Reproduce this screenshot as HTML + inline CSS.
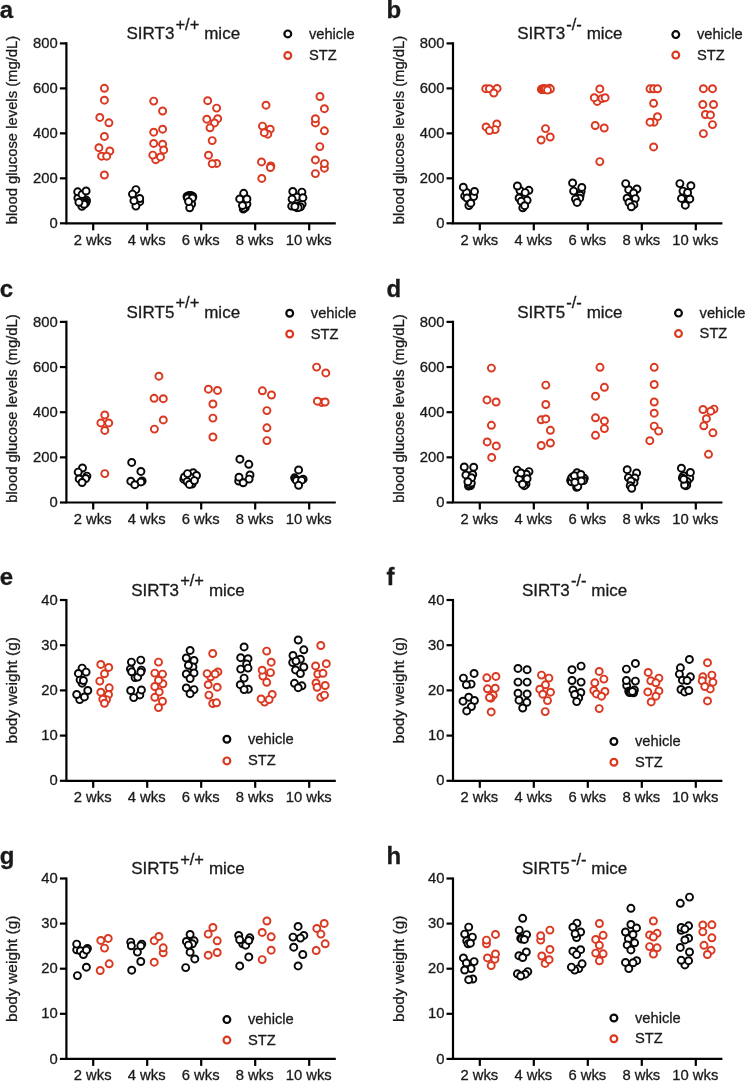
<!DOCTYPE html>
<html><head><meta charset="utf-8"><style>
html,body{margin:0;padding:0;background:#fff;}
svg{display:block;font-family:"Liberation Sans", sans-serif;will-change:transform;}
text{fill:#1a1a1a;stroke:#1a1a1a;stroke-width:0.3px;}
</style></head><body>
<svg width="746" height="1081" viewBox="0 0 746 1081">
<rect width="746" height="1081" fill="#fff"/>
<text x="-0.20" y="18.20" font-size="24" text-anchor="start" font-weight="bold" >a</text>
<path d="M66.40 42.30 V223.30 H335.80" fill="none" stroke="#000" stroke-width="2.2"/>
<line x1="59.90" y1="223.30" x2="66.40" y2="223.30" stroke="#000" stroke-width="2.2"/>
<text x="57.80" y="227.90" font-size="14.8" text-anchor="end" font-weight="normal" >0</text>
<line x1="59.90" y1="178.33" x2="66.40" y2="178.33" stroke="#000" stroke-width="2.2"/>
<text x="57.80" y="182.93" font-size="14.8" text-anchor="end" font-weight="normal" >200</text>
<line x1="59.90" y1="133.35" x2="66.40" y2="133.35" stroke="#000" stroke-width="2.2"/>
<text x="57.80" y="137.95" font-size="14.8" text-anchor="end" font-weight="normal" >400</text>
<line x1="59.90" y1="88.38" x2="66.40" y2="88.38" stroke="#000" stroke-width="2.2"/>
<text x="57.80" y="92.97" font-size="14.8" text-anchor="end" font-weight="normal" >600</text>
<line x1="59.90" y1="43.40" x2="66.40" y2="43.40" stroke="#000" stroke-width="2.2"/>
<text x="57.80" y="48.00" font-size="14.8" text-anchor="end" font-weight="normal" >800</text>
<line x1="93.20" y1="223.30" x2="93.20" y2="230.30" stroke="#000" stroke-width="2.2"/>
<text x="92.70" y="244.50" font-size="14.8" text-anchor="middle" font-weight="normal" >2 wks</text>
<line x1="147.20" y1="223.30" x2="147.20" y2="230.30" stroke="#000" stroke-width="2.2"/>
<text x="146.70" y="244.50" font-size="14.8" text-anchor="middle" font-weight="normal" >4 wks</text>
<line x1="201.20" y1="223.30" x2="201.20" y2="230.30" stroke="#000" stroke-width="2.2"/>
<text x="200.70" y="244.50" font-size="14.8" text-anchor="middle" font-weight="normal" >6 wks</text>
<line x1="255.20" y1="223.30" x2="255.20" y2="230.30" stroke="#000" stroke-width="2.2"/>
<text x="254.70" y="244.50" font-size="14.8" text-anchor="middle" font-weight="normal" >8 wks</text>
<line x1="309.20" y1="223.30" x2="309.20" y2="230.30" stroke="#000" stroke-width="2.2"/>
<text x="308.70" y="244.50" font-size="14.8" text-anchor="middle" font-weight="normal" >10 wks</text>
<text x="0" y="0" font-size="14.8" text-anchor="middle" textLength="188.5" lengthAdjust="spacingAndGlyphs" transform="translate(17.30,130.05) rotate(-90)">blood glucose levels (mg/dL)</text>
<text x="183.30" y="39.00" font-size="17" text-anchor="middle">SIRT3<tspan dx="1.1" dy="-9.2" font-size="16.5">+/+</tspan><tspan dx="4.9" dy="9.2" font-size="17">mice</tspan></text>
<circle cx="287.80" cy="33.90" r="3.4" fill="#fff" stroke="#080808" stroke-width="2.2"/>
<circle cx="287.80" cy="55.50" r="3.4" fill="#fff" stroke="#da3820" stroke-width="2.2"/>
<text x="308.90" y="38.70" font-size="14.7" text-anchor="start" font-weight="normal" >vehicle</text>
<text x="308.90" y="60.00" font-size="14.7" text-anchor="start" font-weight="normal" >STZ</text>
<circle cx="81.90" cy="206.30" r="3.5" fill="#fff" stroke="#080808" stroke-width="1.95"/>
<circle cx="86.50" cy="200.30" r="3.5" fill="#fff" stroke="#080808" stroke-width="1.95"/>
<circle cx="86.10" cy="202.30" r="3.5" fill="#fff" stroke="#080808" stroke-width="1.95"/>
<circle cx="85.00" cy="203.50" r="3.5" fill="#fff" stroke="#080808" stroke-width="1.95"/>
<circle cx="84.10" cy="204.30" r="3.5" fill="#fff" stroke="#080808" stroke-width="1.95"/>
<circle cx="77.90" cy="197.90" r="3.5" fill="#fff" stroke="#080808" stroke-width="1.95"/>
<circle cx="77.70" cy="191.80" r="3.5" fill="#fff" stroke="#080808" stroke-width="1.95"/>
<circle cx="82.10" cy="194.40" r="3.5" fill="#fff" stroke="#080808" stroke-width="1.95"/>
<circle cx="86.10" cy="191.00" r="3.5" fill="#fff" stroke="#080808" stroke-width="1.95"/>
<circle cx="78.90" cy="202.30" r="3.5" fill="#fff" stroke="#080808" stroke-width="1.95"/>
<circle cx="104.40" cy="88.30" r="3.5" fill="#fff" stroke="#da3820" stroke-width="1.95"/>
<circle cx="104.40" cy="100.20" r="3.5" fill="#fff" stroke="#da3820" stroke-width="1.95"/>
<circle cx="99.80" cy="117.40" r="3.5" fill="#fff" stroke="#da3820" stroke-width="1.95"/>
<circle cx="108.90" cy="122.80" r="3.5" fill="#fff" stroke="#da3820" stroke-width="1.95"/>
<circle cx="104.40" cy="136.40" r="3.5" fill="#fff" stroke="#da3820" stroke-width="1.95"/>
<circle cx="98.90" cy="147.70" r="3.5" fill="#fff" stroke="#da3820" stroke-width="1.95"/>
<circle cx="109.80" cy="151.00" r="3.5" fill="#fff" stroke="#da3820" stroke-width="1.95"/>
<circle cx="101.60" cy="156.20" r="3.5" fill="#fff" stroke="#da3820" stroke-width="1.95"/>
<circle cx="106.70" cy="156.20" r="3.5" fill="#fff" stroke="#da3820" stroke-width="1.95"/>
<circle cx="104.40" cy="175.00" r="3.5" fill="#fff" stroke="#da3820" stroke-width="1.95"/>
<circle cx="135.90" cy="189.60" r="3.5" fill="#fff" stroke="#080808" stroke-width="1.95"/>
<circle cx="139.70" cy="201.70" r="3.5" fill="#fff" stroke="#080808" stroke-width="1.95"/>
<circle cx="139.70" cy="198.50" r="3.5" fill="#fff" stroke="#080808" stroke-width="1.95"/>
<circle cx="132.50" cy="194.10" r="3.5" fill="#fff" stroke="#080808" stroke-width="1.95"/>
<circle cx="135.90" cy="206.10" r="3.5" fill="#fff" stroke="#080808" stroke-width="1.95"/>
<circle cx="133.90" cy="200.70" r="3.5" fill="#fff" stroke="#080808" stroke-width="1.95"/>
<circle cx="153.70" cy="101.10" r="3.5" fill="#fff" stroke="#da3820" stroke-width="1.95"/>
<circle cx="162.60" cy="111.00" r="3.5" fill="#fff" stroke="#da3820" stroke-width="1.95"/>
<circle cx="162.60" cy="129.20" r="3.5" fill="#fff" stroke="#da3820" stroke-width="1.95"/>
<circle cx="153.70" cy="132.20" r="3.5" fill="#fff" stroke="#da3820" stroke-width="1.95"/>
<circle cx="153.70" cy="143.40" r="3.5" fill="#fff" stroke="#da3820" stroke-width="1.95"/>
<circle cx="162.60" cy="144.20" r="3.5" fill="#fff" stroke="#da3820" stroke-width="1.95"/>
<circle cx="163.70" cy="149.90" r="3.5" fill="#fff" stroke="#da3820" stroke-width="1.95"/>
<circle cx="155.70" cy="159.70" r="3.5" fill="#fff" stroke="#da3820" stroke-width="1.95"/>
<circle cx="152.80" cy="155.10" r="3.5" fill="#fff" stroke="#da3820" stroke-width="1.95"/>
<circle cx="160.50" cy="156.90" r="3.5" fill="#fff" stroke="#da3820" stroke-width="1.95"/>
<circle cx="187.00" cy="196.50" r="3.5" fill="#fff" stroke="#080808" stroke-width="1.95"/>
<circle cx="188.50" cy="195.80" r="3.5" fill="#fff" stroke="#080808" stroke-width="1.95"/>
<circle cx="190.00" cy="195.50" r="3.5" fill="#fff" stroke="#080808" stroke-width="1.95"/>
<circle cx="191.50" cy="195.80" r="3.5" fill="#fff" stroke="#080808" stroke-width="1.95"/>
<circle cx="192.80" cy="196.50" r="3.5" fill="#fff" stroke="#080808" stroke-width="1.95"/>
<circle cx="187.50" cy="198.00" r="3.5" fill="#fff" stroke="#080808" stroke-width="1.95"/>
<circle cx="191.60" cy="204.00" r="3.5" fill="#fff" stroke="#080808" stroke-width="1.95"/>
<circle cx="189.70" cy="207.80" r="3.5" fill="#fff" stroke="#080808" stroke-width="1.95"/>
<circle cx="192.40" cy="198.10" r="3.5" fill="#fff" stroke="#080808" stroke-width="1.95"/>
<circle cx="188.60" cy="201.60" r="3.5" fill="#fff" stroke="#080808" stroke-width="1.95"/>
<circle cx="207.70" cy="100.70" r="3.5" fill="#fff" stroke="#da3820" stroke-width="1.95"/>
<circle cx="216.60" cy="108.10" r="3.5" fill="#fff" stroke="#da3820" stroke-width="1.95"/>
<circle cx="217.70" cy="118.70" r="3.5" fill="#fff" stroke="#da3820" stroke-width="1.95"/>
<circle cx="206.80" cy="119.20" r="3.5" fill="#fff" stroke="#da3820" stroke-width="1.95"/>
<circle cx="214.50" cy="122.90" r="3.5" fill="#fff" stroke="#da3820" stroke-width="1.95"/>
<circle cx="210.00" cy="127.80" r="3.5" fill="#fff" stroke="#da3820" stroke-width="1.95"/>
<circle cx="212.20" cy="140.60" r="3.5" fill="#fff" stroke="#da3820" stroke-width="1.95"/>
<circle cx="208.50" cy="155.20" r="3.5" fill="#fff" stroke="#da3820" stroke-width="1.95"/>
<circle cx="216.60" cy="163.40" r="3.5" fill="#fff" stroke="#da3820" stroke-width="1.95"/>
<circle cx="212.20" cy="163.70" r="3.5" fill="#fff" stroke="#da3820" stroke-width="1.95"/>
<circle cx="243.30" cy="209.00" r="3.5" fill="#fff" stroke="#080808" stroke-width="1.95"/>
<circle cx="245.30" cy="207.70" r="3.5" fill="#fff" stroke="#080808" stroke-width="1.95"/>
<circle cx="243.70" cy="208.10" r="3.5" fill="#fff" stroke="#080808" stroke-width="1.95"/>
<circle cx="246.90" cy="204.10" r="3.5" fill="#fff" stroke="#080808" stroke-width="1.95"/>
<circle cx="242.50" cy="205.50" r="3.5" fill="#fff" stroke="#080808" stroke-width="1.95"/>
<circle cx="243.70" cy="193.30" r="3.5" fill="#fff" stroke="#080808" stroke-width="1.95"/>
<circle cx="239.70" cy="198.90" r="3.5" fill="#fff" stroke="#080808" stroke-width="1.95"/>
<circle cx="246.90" cy="198.90" r="3.5" fill="#fff" stroke="#080808" stroke-width="1.95"/>
<circle cx="266.00" cy="105.20" r="3.5" fill="#fff" stroke="#da3820" stroke-width="1.95"/>
<circle cx="262.50" cy="126.10" r="3.5" fill="#fff" stroke="#da3820" stroke-width="1.95"/>
<circle cx="270.20" cy="129.20" r="3.5" fill="#fff" stroke="#da3820" stroke-width="1.95"/>
<circle cx="267.80" cy="134.20" r="3.5" fill="#fff" stroke="#da3820" stroke-width="1.95"/>
<circle cx="264.30" cy="132.70" r="3.5" fill="#fff" stroke="#da3820" stroke-width="1.95"/>
<circle cx="261.50" cy="161.90" r="3.5" fill="#fff" stroke="#da3820" stroke-width="1.95"/>
<circle cx="270.80" cy="166.00" r="3.5" fill="#fff" stroke="#da3820" stroke-width="1.95"/>
<circle cx="270.40" cy="167.50" r="3.5" fill="#fff" stroke="#da3820" stroke-width="1.95"/>
<circle cx="261.80" cy="178.40" r="3.5" fill="#fff" stroke="#da3820" stroke-width="1.95"/>
<circle cx="296.90" cy="196.90" r="3.5" fill="#fff" stroke="#080808" stroke-width="1.95"/>
<circle cx="301.90" cy="192.10" r="3.5" fill="#fff" stroke="#080808" stroke-width="1.95"/>
<circle cx="291.70" cy="206.10" r="3.5" fill="#fff" stroke="#080808" stroke-width="1.95"/>
<circle cx="296.90" cy="207.70" r="3.5" fill="#fff" stroke="#080808" stroke-width="1.95"/>
<circle cx="299.30" cy="205.70" r="3.5" fill="#fff" stroke="#080808" stroke-width="1.95"/>
<circle cx="302.10" cy="204.10" r="3.5" fill="#fff" stroke="#080808" stroke-width="1.95"/>
<circle cx="300.50" cy="206.80" r="3.5" fill="#fff" stroke="#080808" stroke-width="1.95"/>
<circle cx="298.20" cy="207.50" r="3.5" fill="#fff" stroke="#080808" stroke-width="1.95"/>
<circle cx="292.80" cy="191.50" r="3.5" fill="#fff" stroke="#080808" stroke-width="1.95"/>
<circle cx="292.10" cy="199.10" r="3.5" fill="#fff" stroke="#080808" stroke-width="1.95"/>
<circle cx="302.90" cy="197.70" r="3.5" fill="#fff" stroke="#080808" stroke-width="1.95"/>
<circle cx="294.90" cy="206.50" r="3.5" fill="#fff" stroke="#080808" stroke-width="1.95"/>
<circle cx="319.95" cy="96.50" r="3.5" fill="#fff" stroke="#da3820" stroke-width="1.95"/>
<circle cx="324.40" cy="108.70" r="3.5" fill="#fff" stroke="#da3820" stroke-width="1.95"/>
<circle cx="315.40" cy="122.90" r="3.5" fill="#fff" stroke="#da3820" stroke-width="1.95"/>
<circle cx="315.40" cy="118.70" r="3.5" fill="#fff" stroke="#da3820" stroke-width="1.95"/>
<circle cx="324.40" cy="130.80" r="3.5" fill="#fff" stroke="#da3820" stroke-width="1.95"/>
<circle cx="319.80" cy="146.60" r="3.5" fill="#fff" stroke="#da3820" stroke-width="1.95"/>
<circle cx="315.40" cy="159.90" r="3.5" fill="#fff" stroke="#da3820" stroke-width="1.95"/>
<circle cx="324.40" cy="168.20" r="3.5" fill="#fff" stroke="#da3820" stroke-width="1.95"/>
<circle cx="324.40" cy="163.60" r="3.5" fill="#fff" stroke="#da3820" stroke-width="1.95"/>
<circle cx="315.40" cy="173.60" r="3.5" fill="#fff" stroke="#da3820" stroke-width="1.95"/>
<text x="386.40" y="18.20" font-size="24" text-anchor="start" font-weight="bold" >b</text>
<path d="M453.00 42.30 V223.30 H722.40" fill="none" stroke="#000" stroke-width="2.2"/>
<line x1="446.50" y1="223.30" x2="453.00" y2="223.30" stroke="#000" stroke-width="2.2"/>
<text x="444.40" y="227.90" font-size="14.8" text-anchor="end" font-weight="normal" >0</text>
<line x1="446.50" y1="178.33" x2="453.00" y2="178.33" stroke="#000" stroke-width="2.2"/>
<text x="444.40" y="182.93" font-size="14.8" text-anchor="end" font-weight="normal" >200</text>
<line x1="446.50" y1="133.35" x2="453.00" y2="133.35" stroke="#000" stroke-width="2.2"/>
<text x="444.40" y="137.95" font-size="14.8" text-anchor="end" font-weight="normal" >400</text>
<line x1="446.50" y1="88.38" x2="453.00" y2="88.38" stroke="#000" stroke-width="2.2"/>
<text x="444.40" y="92.97" font-size="14.8" text-anchor="end" font-weight="normal" >600</text>
<line x1="446.50" y1="43.40" x2="453.00" y2="43.40" stroke="#000" stroke-width="2.2"/>
<text x="444.40" y="48.00" font-size="14.8" text-anchor="end" font-weight="normal" >800</text>
<line x1="479.80" y1="223.30" x2="479.80" y2="230.30" stroke="#000" stroke-width="2.2"/>
<text x="479.30" y="244.50" font-size="14.8" text-anchor="middle" font-weight="normal" >2 wks</text>
<line x1="533.80" y1="223.30" x2="533.80" y2="230.30" stroke="#000" stroke-width="2.2"/>
<text x="533.30" y="244.50" font-size="14.8" text-anchor="middle" font-weight="normal" >4 wks</text>
<line x1="587.80" y1="223.30" x2="587.80" y2="230.30" stroke="#000" stroke-width="2.2"/>
<text x="587.30" y="244.50" font-size="14.8" text-anchor="middle" font-weight="normal" >6 wks</text>
<line x1="641.80" y1="223.30" x2="641.80" y2="230.30" stroke="#000" stroke-width="2.2"/>
<text x="641.30" y="244.50" font-size="14.8" text-anchor="middle" font-weight="normal" >8 wks</text>
<line x1="695.80" y1="223.30" x2="695.80" y2="230.30" stroke="#000" stroke-width="2.2"/>
<text x="695.30" y="244.50" font-size="14.8" text-anchor="middle" font-weight="normal" >10 wks</text>
<text x="0" y="0" font-size="14.8" text-anchor="middle" textLength="188.5" lengthAdjust="spacingAndGlyphs" transform="translate(403.90,130.05) rotate(-90)">blood glucose levels (mg/dL)</text>
<text x="569.90" y="39.00" font-size="17" text-anchor="middle">SIRT3<tspan dx="1.1" dy="-9.2" font-size="16.5">-/-</tspan><tspan dx="4.9" dy="9.2" font-size="17">mice</tspan></text>
<circle cx="675.80" cy="34.60" r="3.4" fill="#fff" stroke="#080808" stroke-width="2.2"/>
<circle cx="675.80" cy="55.10" r="3.4" fill="#fff" stroke="#da3820" stroke-width="2.2"/>
<text x="696.90" y="39.40" font-size="14.7" text-anchor="start" font-weight="normal" >vehicle</text>
<text x="696.90" y="59.60" font-size="14.7" text-anchor="start" font-weight="normal" >STZ</text>
<circle cx="464.70" cy="196.10" r="3.5" fill="#fff" stroke="#080808" stroke-width="1.95"/>
<circle cx="473.60" cy="196.60" r="3.5" fill="#fff" stroke="#080808" stroke-width="1.95"/>
<circle cx="466.50" cy="192.40" r="3.5" fill="#fff" stroke="#080808" stroke-width="1.95"/>
<circle cx="468.90" cy="205.50" r="3.5" fill="#fff" stroke="#080808" stroke-width="1.95"/>
<circle cx="463.30" cy="187.20" r="3.5" fill="#fff" stroke="#080808" stroke-width="1.95"/>
<circle cx="474.50" cy="191.40" r="3.5" fill="#fff" stroke="#080808" stroke-width="1.95"/>
<circle cx="467.00" cy="198.00" r="3.5" fill="#fff" stroke="#080808" stroke-width="1.95"/>
<circle cx="470.80" cy="203.20" r="3.5" fill="#fff" stroke="#080808" stroke-width="1.95"/>
<circle cx="485.75" cy="88.70" r="3.5" fill="#fff" stroke="#da3820" stroke-width="1.95"/>
<circle cx="489.40" cy="88.70" r="3.5" fill="#fff" stroke="#da3820" stroke-width="1.95"/>
<circle cx="497.10" cy="88.40" r="3.5" fill="#fff" stroke="#da3820" stroke-width="1.95"/>
<circle cx="493.80" cy="93.00" r="3.5" fill="#fff" stroke="#da3820" stroke-width="1.95"/>
<circle cx="496.80" cy="123.90" r="3.5" fill="#fff" stroke="#da3820" stroke-width="1.95"/>
<circle cx="486.10" cy="126.90" r="3.5" fill="#fff" stroke="#da3820" stroke-width="1.95"/>
<circle cx="495.10" cy="129.60" r="3.5" fill="#fff" stroke="#da3820" stroke-width="1.95"/>
<circle cx="489.40" cy="130.60" r="3.5" fill="#fff" stroke="#da3820" stroke-width="1.95"/>
<circle cx="520.00" cy="190.50" r="3.5" fill="#fff" stroke="#080808" stroke-width="1.95"/>
<circle cx="528.90" cy="190.30" r="3.5" fill="#fff" stroke="#080808" stroke-width="1.95"/>
<circle cx="517.40" cy="186.00" r="3.5" fill="#fff" stroke="#080808" stroke-width="1.95"/>
<circle cx="525.20" cy="192.60" r="3.5" fill="#fff" stroke="#080808" stroke-width="1.95"/>
<circle cx="522.80" cy="207.80" r="3.5" fill="#fff" stroke="#080808" stroke-width="1.95"/>
<circle cx="527.10" cy="200.30" r="3.5" fill="#fff" stroke="#080808" stroke-width="1.95"/>
<circle cx="519.10" cy="198.00" r="3.5" fill="#fff" stroke="#080808" stroke-width="1.95"/>
<circle cx="521.20" cy="201.30" r="3.5" fill="#fff" stroke="#080808" stroke-width="1.95"/>
<circle cx="524.70" cy="205.70" r="3.5" fill="#fff" stroke="#080808" stroke-width="1.95"/>
<circle cx="541.40" cy="89.40" r="3.5" fill="#fff" stroke="#da3820" stroke-width="1.95"/>
<circle cx="541.90" cy="89.00" r="3.5" fill="#fff" stroke="#da3820" stroke-width="1.95"/>
<circle cx="542.40" cy="89.60" r="3.5" fill="#fff" stroke="#da3820" stroke-width="1.95"/>
<circle cx="542.90" cy="88.90" r="3.5" fill="#fff" stroke="#da3820" stroke-width="1.95"/>
<circle cx="543.40" cy="89.50" r="3.5" fill="#fff" stroke="#da3820" stroke-width="1.95"/>
<circle cx="543.90" cy="88.80" r="3.5" fill="#fff" stroke="#da3820" stroke-width="1.95"/>
<circle cx="544.40" cy="89.30" r="3.5" fill="#fff" stroke="#da3820" stroke-width="1.95"/>
<circle cx="544.90" cy="88.70" r="3.5" fill="#fff" stroke="#da3820" stroke-width="1.95"/>
<circle cx="545.40" cy="89.20" r="3.5" fill="#fff" stroke="#da3820" stroke-width="1.95"/>
<circle cx="549.50" cy="88.30" r="3.5" fill="#fff" stroke="#da3820" stroke-width="1.95"/>
<circle cx="550.40" cy="89.00" r="3.5" fill="#fff" stroke="#da3820" stroke-width="1.95"/>
<circle cx="547.50" cy="90.10" r="3.5" fill="#fff" stroke="#da3820" stroke-width="1.95"/>
<circle cx="545.50" cy="128.60" r="3.5" fill="#fff" stroke="#da3820" stroke-width="1.95"/>
<circle cx="550.20" cy="137.00" r="3.5" fill="#fff" stroke="#da3820" stroke-width="1.95"/>
<circle cx="541.10" cy="140.00" r="3.5" fill="#fff" stroke="#da3820" stroke-width="1.95"/>
<circle cx="581.10" cy="191.60" r="3.5" fill="#fff" stroke="#080808" stroke-width="1.95"/>
<circle cx="580.20" cy="195.30" r="3.5" fill="#fff" stroke="#080808" stroke-width="1.95"/>
<circle cx="579.70" cy="198.20" r="3.5" fill="#fff" stroke="#080808" stroke-width="1.95"/>
<circle cx="575.50" cy="199.10" r="3.5" fill="#fff" stroke="#080808" stroke-width="1.95"/>
<circle cx="581.80" cy="187.40" r="3.5" fill="#fff" stroke="#080808" stroke-width="1.95"/>
<circle cx="572.60" cy="182.90" r="3.5" fill="#fff" stroke="#080808" stroke-width="1.95"/>
<circle cx="573.60" cy="191.10" r="3.5" fill="#fff" stroke="#080808" stroke-width="1.95"/>
<circle cx="577.10" cy="202.40" r="3.5" fill="#fff" stroke="#080808" stroke-width="1.95"/>
<circle cx="599.80" cy="88.90" r="3.5" fill="#fff" stroke="#da3820" stroke-width="1.95"/>
<circle cx="597.20" cy="101.40" r="3.5" fill="#fff" stroke="#da3820" stroke-width="1.95"/>
<circle cx="594.30" cy="97.70" r="3.5" fill="#fff" stroke="#da3820" stroke-width="1.95"/>
<circle cx="601.90" cy="98.60" r="3.5" fill="#fff" stroke="#da3820" stroke-width="1.95"/>
<circle cx="605.10" cy="97.70" r="3.5" fill="#fff" stroke="#da3820" stroke-width="1.95"/>
<circle cx="595.20" cy="125.50" r="3.5" fill="#fff" stroke="#da3820" stroke-width="1.95"/>
<circle cx="604.20" cy="128.00" r="3.5" fill="#fff" stroke="#da3820" stroke-width="1.95"/>
<circle cx="599.80" cy="161.60" r="3.5" fill="#fff" stroke="#da3820" stroke-width="1.95"/>
<circle cx="636.90" cy="189.00" r="3.5" fill="#fff" stroke="#080808" stroke-width="1.95"/>
<circle cx="628.70" cy="189.70" r="3.5" fill="#fff" stroke="#080808" stroke-width="1.95"/>
<circle cx="625.70" cy="183.60" r="3.5" fill="#fff" stroke="#080808" stroke-width="1.95"/>
<circle cx="633.60" cy="193.00" r="3.5" fill="#fff" stroke="#080808" stroke-width="1.95"/>
<circle cx="627.10" cy="198.20" r="3.5" fill="#fff" stroke="#080808" stroke-width="1.95"/>
<circle cx="635.30" cy="198.60" r="3.5" fill="#fff" stroke="#080808" stroke-width="1.95"/>
<circle cx="633.90" cy="204.70" r="3.5" fill="#fff" stroke="#080808" stroke-width="1.95"/>
<circle cx="629.00" cy="202.40" r="3.5" fill="#fff" stroke="#080808" stroke-width="1.95"/>
<circle cx="631.30" cy="206.80" r="3.5" fill="#fff" stroke="#080808" stroke-width="1.95"/>
<circle cx="650.00" cy="88.80" r="3.5" fill="#fff" stroke="#da3820" stroke-width="1.95"/>
<circle cx="653.60" cy="88.80" r="3.5" fill="#fff" stroke="#da3820" stroke-width="1.95"/>
<circle cx="657.50" cy="88.80" r="3.5" fill="#fff" stroke="#da3820" stroke-width="1.95"/>
<circle cx="653.60" cy="103.30" r="3.5" fill="#fff" stroke="#da3820" stroke-width="1.95"/>
<circle cx="657.50" cy="116.70" r="3.5" fill="#fff" stroke="#da3820" stroke-width="1.95"/>
<circle cx="654.00" cy="122.20" r="3.5" fill="#fff" stroke="#da3820" stroke-width="1.95"/>
<circle cx="650.00" cy="122.20" r="3.5" fill="#fff" stroke="#da3820" stroke-width="1.95"/>
<circle cx="653.60" cy="146.90" r="3.5" fill="#fff" stroke="#da3820" stroke-width="1.95"/>
<circle cx="683.00" cy="191.10" r="3.5" fill="#fff" stroke="#080808" stroke-width="1.95"/>
<circle cx="688.60" cy="199.10" r="3.5" fill="#fff" stroke="#080808" stroke-width="1.95"/>
<circle cx="689.80" cy="198.90" r="3.5" fill="#fff" stroke="#080808" stroke-width="1.95"/>
<circle cx="679.90" cy="183.60" r="3.5" fill="#fff" stroke="#080808" stroke-width="1.95"/>
<circle cx="690.90" cy="185.70" r="3.5" fill="#fff" stroke="#080808" stroke-width="1.95"/>
<circle cx="687.60" cy="192.50" r="3.5" fill="#fff" stroke="#080808" stroke-width="1.95"/>
<circle cx="681.50" cy="198.40" r="3.5" fill="#fff" stroke="#080808" stroke-width="1.95"/>
<circle cx="685.30" cy="205.20" r="3.5" fill="#fff" stroke="#080808" stroke-width="1.95"/>
<circle cx="703.40" cy="88.70" r="3.5" fill="#fff" stroke="#da3820" stroke-width="1.95"/>
<circle cx="712.50" cy="88.70" r="3.5" fill="#fff" stroke="#da3820" stroke-width="1.95"/>
<circle cx="702.80" cy="104.50" r="3.5" fill="#fff" stroke="#da3820" stroke-width="1.95"/>
<circle cx="713.50" cy="104.50" r="3.5" fill="#fff" stroke="#da3820" stroke-width="1.95"/>
<circle cx="705.40" cy="114.50" r="3.5" fill="#fff" stroke="#da3820" stroke-width="1.95"/>
<circle cx="710.50" cy="114.90" r="3.5" fill="#fff" stroke="#da3820" stroke-width="1.95"/>
<circle cx="712.50" cy="124.60" r="3.5" fill="#fff" stroke="#da3820" stroke-width="1.95"/>
<circle cx="703.40" cy="133.60" r="3.5" fill="#fff" stroke="#da3820" stroke-width="1.95"/>
<text x="-0.20" y="296.70" font-size="24" text-anchor="start" font-weight="bold" >c</text>
<path d="M66.40 320.80 V502.50 H335.80" fill="none" stroke="#000" stroke-width="2.2"/>
<line x1="59.90" y1="502.50" x2="66.40" y2="502.50" stroke="#000" stroke-width="2.2"/>
<text x="57.80" y="507.10" font-size="14.8" text-anchor="end" font-weight="normal" >0</text>
<line x1="59.90" y1="457.35" x2="66.40" y2="457.35" stroke="#000" stroke-width="2.2"/>
<text x="57.80" y="461.95" font-size="14.8" text-anchor="end" font-weight="normal" >200</text>
<line x1="59.90" y1="412.20" x2="66.40" y2="412.20" stroke="#000" stroke-width="2.2"/>
<text x="57.80" y="416.80" font-size="14.8" text-anchor="end" font-weight="normal" >400</text>
<line x1="59.90" y1="367.05" x2="66.40" y2="367.05" stroke="#000" stroke-width="2.2"/>
<text x="57.80" y="371.65" font-size="14.8" text-anchor="end" font-weight="normal" >600</text>
<line x1="59.90" y1="321.90" x2="66.40" y2="321.90" stroke="#000" stroke-width="2.2"/>
<text x="57.80" y="326.50" font-size="14.8" text-anchor="end" font-weight="normal" >800</text>
<line x1="93.20" y1="502.50" x2="93.20" y2="509.50" stroke="#000" stroke-width="2.2"/>
<text x="92.70" y="523.70" font-size="14.8" text-anchor="middle" font-weight="normal" >2 wks</text>
<line x1="147.20" y1="502.50" x2="147.20" y2="509.50" stroke="#000" stroke-width="2.2"/>
<text x="146.70" y="523.70" font-size="14.8" text-anchor="middle" font-weight="normal" >4 wks</text>
<line x1="201.20" y1="502.50" x2="201.20" y2="509.50" stroke="#000" stroke-width="2.2"/>
<text x="200.70" y="523.70" font-size="14.8" text-anchor="middle" font-weight="normal" >6 wks</text>
<line x1="255.20" y1="502.50" x2="255.20" y2="509.50" stroke="#000" stroke-width="2.2"/>
<text x="254.70" y="523.70" font-size="14.8" text-anchor="middle" font-weight="normal" >8 wks</text>
<line x1="309.20" y1="502.50" x2="309.20" y2="509.50" stroke="#000" stroke-width="2.2"/>
<text x="308.70" y="523.70" font-size="14.8" text-anchor="middle" font-weight="normal" >10 wks</text>
<text x="0" y="0" font-size="14.8" text-anchor="middle" textLength="188.5" lengthAdjust="spacingAndGlyphs" transform="translate(17.30,408.55) rotate(-90)">blood glucose levels (mg/dL)</text>
<text x="183.30" y="317.50" font-size="17" text-anchor="middle">SIRT5<tspan dx="1.1" dy="-9.2" font-size="16.5">+/+</tspan><tspan dx="4.9" dy="9.2" font-size="17">mice</tspan></text>
<circle cx="289.70" cy="313.30" r="3.4" fill="#fff" stroke="#080808" stroke-width="2.2"/>
<circle cx="289.70" cy="334.00" r="3.4" fill="#fff" stroke="#da3820" stroke-width="2.2"/>
<text x="310.80" y="318.10" font-size="14.7" text-anchor="start" font-weight="normal" >vehicle</text>
<text x="310.80" y="338.50" font-size="14.7" text-anchor="start" font-weight="normal" >STZ</text>
<circle cx="82.50" cy="468.00" r="3.5" fill="#fff" stroke="#080808" stroke-width="1.95"/>
<circle cx="78.20" cy="472.10" r="3.5" fill="#fff" stroke="#080808" stroke-width="1.95"/>
<circle cx="86.90" cy="476.10" r="3.5" fill="#fff" stroke="#080808" stroke-width="1.95"/>
<circle cx="85.70" cy="478.50" r="3.5" fill="#fff" stroke="#080808" stroke-width="1.95"/>
<circle cx="79.20" cy="478.90" r="3.5" fill="#fff" stroke="#080808" stroke-width="1.95"/>
<circle cx="82.10" cy="482.50" r="3.5" fill="#fff" stroke="#080808" stroke-width="1.95"/>
<circle cx="104.80" cy="415.00" r="3.5" fill="#fff" stroke="#da3820" stroke-width="1.95"/>
<circle cx="100.90" cy="422.90" r="3.5" fill="#fff" stroke="#da3820" stroke-width="1.95"/>
<circle cx="108.70" cy="422.90" r="3.5" fill="#fff" stroke="#da3820" stroke-width="1.95"/>
<circle cx="104.80" cy="430.40" r="3.5" fill="#fff" stroke="#da3820" stroke-width="1.95"/>
<circle cx="104.80" cy="473.60" r="3.5" fill="#fff" stroke="#da3820" stroke-width="1.95"/>
<circle cx="131.70" cy="462.40" r="3.5" fill="#fff" stroke="#080808" stroke-width="1.95"/>
<circle cx="140.90" cy="471.40" r="3.5" fill="#fff" stroke="#080808" stroke-width="1.95"/>
<circle cx="130.80" cy="481.20" r="3.5" fill="#fff" stroke="#080808" stroke-width="1.95"/>
<circle cx="142.10" cy="481.00" r="3.5" fill="#fff" stroke="#080808" stroke-width="1.95"/>
<circle cx="140.90" cy="481.90" r="3.5" fill="#fff" stroke="#080808" stroke-width="1.95"/>
<circle cx="134.80" cy="484.70" r="3.5" fill="#fff" stroke="#080808" stroke-width="1.95"/>
<circle cx="158.90" cy="376.20" r="3.5" fill="#fff" stroke="#da3820" stroke-width="1.95"/>
<circle cx="154.10" cy="398.30" r="3.5" fill="#fff" stroke="#da3820" stroke-width="1.95"/>
<circle cx="163.30" cy="398.70" r="3.5" fill="#fff" stroke="#da3820" stroke-width="1.95"/>
<circle cx="163.30" cy="419.90" r="3.5" fill="#fff" stroke="#da3820" stroke-width="1.95"/>
<circle cx="154.40" cy="429.10" r="3.5" fill="#fff" stroke="#da3820" stroke-width="1.95"/>
<circle cx="193.20" cy="472.70" r="3.5" fill="#fff" stroke="#080808" stroke-width="1.95"/>
<circle cx="196.50" cy="475.50" r="3.5" fill="#fff" stroke="#080808" stroke-width="1.95"/>
<circle cx="183.80" cy="479.20" r="3.5" fill="#fff" stroke="#080808" stroke-width="1.95"/>
<circle cx="184.50" cy="477.00" r="3.5" fill="#fff" stroke="#080808" stroke-width="1.95"/>
<circle cx="190.50" cy="477.50" r="3.5" fill="#fff" stroke="#080808" stroke-width="1.95"/>
<circle cx="192.00" cy="484.00" r="3.5" fill="#fff" stroke="#080808" stroke-width="1.95"/>
<circle cx="187.10" cy="481.60" r="3.5" fill="#fff" stroke="#080808" stroke-width="1.95"/>
<circle cx="189.40" cy="484.40" r="3.5" fill="#fff" stroke="#080808" stroke-width="1.95"/>
<circle cx="187.50" cy="473.60" r="3.5" fill="#fff" stroke="#080808" stroke-width="1.95"/>
<circle cx="194.40" cy="480.60" r="3.5" fill="#fff" stroke="#080808" stroke-width="1.95"/>
<circle cx="208.40" cy="389.20" r="3.5" fill="#fff" stroke="#da3820" stroke-width="1.95"/>
<circle cx="217.50" cy="390.40" r="3.5" fill="#fff" stroke="#da3820" stroke-width="1.95"/>
<circle cx="212.90" cy="404.00" r="3.5" fill="#fff" stroke="#da3820" stroke-width="1.95"/>
<circle cx="212.90" cy="418.10" r="3.5" fill="#fff" stroke="#da3820" stroke-width="1.95"/>
<circle cx="212.90" cy="437.00" r="3.5" fill="#fff" stroke="#da3820" stroke-width="1.95"/>
<circle cx="239.90" cy="459.20" r="3.5" fill="#fff" stroke="#080808" stroke-width="1.95"/>
<circle cx="248.80" cy="464.30" r="3.5" fill="#fff" stroke="#080808" stroke-width="1.95"/>
<circle cx="250.00" cy="474.90" r="3.5" fill="#fff" stroke="#080808" stroke-width="1.95"/>
<circle cx="238.70" cy="481.00" r="3.5" fill="#fff" stroke="#080808" stroke-width="1.95"/>
<circle cx="239.00" cy="477.20" r="3.5" fill="#fff" stroke="#080808" stroke-width="1.95"/>
<circle cx="249.10" cy="479.10" r="3.5" fill="#fff" stroke="#080808" stroke-width="1.95"/>
<circle cx="243.20" cy="482.80" r="3.5" fill="#fff" stroke="#080808" stroke-width="1.95"/>
<circle cx="262.40" cy="390.80" r="3.5" fill="#fff" stroke="#da3820" stroke-width="1.95"/>
<circle cx="271.50" cy="395.00" r="3.5" fill="#fff" stroke="#da3820" stroke-width="1.95"/>
<circle cx="266.90" cy="410.60" r="3.5" fill="#fff" stroke="#da3820" stroke-width="1.95"/>
<circle cx="266.90" cy="427.80" r="3.5" fill="#fff" stroke="#da3820" stroke-width="1.95"/>
<circle cx="266.90" cy="440.60" r="3.5" fill="#fff" stroke="#da3820" stroke-width="1.95"/>
<circle cx="294.60" cy="477.80" r="3.5" fill="#fff" stroke="#080808" stroke-width="1.95"/>
<circle cx="295.50" cy="479.20" r="3.5" fill="#fff" stroke="#080808" stroke-width="1.95"/>
<circle cx="296.50" cy="480.60" r="3.5" fill="#fff" stroke="#080808" stroke-width="1.95"/>
<circle cx="303.10" cy="479.20" r="3.5" fill="#fff" stroke="#080808" stroke-width="1.95"/>
<circle cx="301.60" cy="480.20" r="3.5" fill="#fff" stroke="#080808" stroke-width="1.95"/>
<circle cx="298.60" cy="469.90" r="3.5" fill="#fff" stroke="#080808" stroke-width="1.95"/>
<circle cx="298.60" cy="485.30" r="3.5" fill="#fff" stroke="#080808" stroke-width="1.95"/>
<circle cx="316.60" cy="367.10" r="3.5" fill="#fff" stroke="#da3820" stroke-width="1.95"/>
<circle cx="325.80" cy="372.90" r="3.5" fill="#fff" stroke="#da3820" stroke-width="1.95"/>
<circle cx="321.80" cy="402.40" r="3.5" fill="#fff" stroke="#da3820" stroke-width="1.95"/>
<circle cx="325.10" cy="402.00" r="3.5" fill="#fff" stroke="#da3820" stroke-width="1.95"/>
<circle cx="317.40" cy="401.20" r="3.5" fill="#fff" stroke="#da3820" stroke-width="1.95"/>
<text x="386.40" y="296.70" font-size="24" text-anchor="start" font-weight="bold" >d</text>
<path d="M453.00 320.80 V502.50 H722.40" fill="none" stroke="#000" stroke-width="2.2"/>
<line x1="446.50" y1="502.50" x2="453.00" y2="502.50" stroke="#000" stroke-width="2.2"/>
<text x="444.40" y="507.10" font-size="14.8" text-anchor="end" font-weight="normal" >0</text>
<line x1="446.50" y1="457.35" x2="453.00" y2="457.35" stroke="#000" stroke-width="2.2"/>
<text x="444.40" y="461.95" font-size="14.8" text-anchor="end" font-weight="normal" >200</text>
<line x1="446.50" y1="412.20" x2="453.00" y2="412.20" stroke="#000" stroke-width="2.2"/>
<text x="444.40" y="416.80" font-size="14.8" text-anchor="end" font-weight="normal" >400</text>
<line x1="446.50" y1="367.05" x2="453.00" y2="367.05" stroke="#000" stroke-width="2.2"/>
<text x="444.40" y="371.65" font-size="14.8" text-anchor="end" font-weight="normal" >600</text>
<line x1="446.50" y1="321.90" x2="453.00" y2="321.90" stroke="#000" stroke-width="2.2"/>
<text x="444.40" y="326.50" font-size="14.8" text-anchor="end" font-weight="normal" >800</text>
<line x1="479.80" y1="502.50" x2="479.80" y2="509.50" stroke="#000" stroke-width="2.2"/>
<text x="479.30" y="523.70" font-size="14.8" text-anchor="middle" font-weight="normal" >2 wks</text>
<line x1="533.80" y1="502.50" x2="533.80" y2="509.50" stroke="#000" stroke-width="2.2"/>
<text x="533.30" y="523.70" font-size="14.8" text-anchor="middle" font-weight="normal" >4 wks</text>
<line x1="587.80" y1="502.50" x2="587.80" y2="509.50" stroke="#000" stroke-width="2.2"/>
<text x="587.30" y="523.70" font-size="14.8" text-anchor="middle" font-weight="normal" >6 wks</text>
<line x1="641.80" y1="502.50" x2="641.80" y2="509.50" stroke="#000" stroke-width="2.2"/>
<text x="641.30" y="523.70" font-size="14.8" text-anchor="middle" font-weight="normal" >8 wks</text>
<line x1="695.80" y1="502.50" x2="695.80" y2="509.50" stroke="#000" stroke-width="2.2"/>
<text x="695.30" y="523.70" font-size="14.8" text-anchor="middle" font-weight="normal" >10 wks</text>
<text x="0" y="0" font-size="14.8" text-anchor="middle" textLength="188.5" lengthAdjust="spacingAndGlyphs" transform="translate(403.90,408.55) rotate(-90)">blood glucose levels (mg/dL)</text>
<text x="569.90" y="317.50" font-size="17" text-anchor="middle">SIRT5<tspan dx="1.1" dy="-9.2" font-size="16.5">-/-</tspan><tspan dx="4.9" dy="9.2" font-size="17">mice</tspan></text>
<circle cx="678.50" cy="313.10" r="3.4" fill="#fff" stroke="#080808" stroke-width="2.2"/>
<circle cx="678.50" cy="333.60" r="3.4" fill="#fff" stroke="#da3820" stroke-width="2.2"/>
<text x="699.60" y="317.90" font-size="14.7" text-anchor="start" font-weight="normal" >vehicle</text>
<text x="699.60" y="338.10" font-size="14.7" text-anchor="start" font-weight="normal" >STZ</text>
<circle cx="472.70" cy="474.50" r="3.5" fill="#fff" stroke="#080808" stroke-width="1.95"/>
<circle cx="465.90" cy="474.90" r="3.5" fill="#fff" stroke="#080808" stroke-width="1.95"/>
<circle cx="469.10" cy="485.70" r="3.5" fill="#fff" stroke="#080808" stroke-width="1.95"/>
<circle cx="470.30" cy="484.10" r="3.5" fill="#fff" stroke="#080808" stroke-width="1.95"/>
<circle cx="468.50" cy="486.00" r="3.5" fill="#fff" stroke="#080808" stroke-width="1.95"/>
<circle cx="470.60" cy="485.60" r="3.5" fill="#fff" stroke="#080808" stroke-width="1.95"/>
<circle cx="469.60" cy="484.60" r="3.5" fill="#fff" stroke="#080808" stroke-width="1.95"/>
<circle cx="471.30" cy="483.00" r="3.5" fill="#fff" stroke="#080808" stroke-width="1.95"/>
<circle cx="471.50" cy="477.70" r="3.5" fill="#fff" stroke="#080808" stroke-width="1.95"/>
<circle cx="464.25" cy="467.00" r="3.5" fill="#fff" stroke="#080808" stroke-width="1.95"/>
<circle cx="473.70" cy="467.20" r="3.5" fill="#fff" stroke="#080808" stroke-width="1.95"/>
<circle cx="467.90" cy="481.70" r="3.5" fill="#fff" stroke="#080808" stroke-width="1.95"/>
<circle cx="491.40" cy="368.10" r="3.5" fill="#fff" stroke="#da3820" stroke-width="1.95"/>
<circle cx="487.00" cy="399.90" r="3.5" fill="#fff" stroke="#da3820" stroke-width="1.95"/>
<circle cx="496.10" cy="402.00" r="3.5" fill="#fff" stroke="#da3820" stroke-width="1.95"/>
<circle cx="491.40" cy="425.30" r="3.5" fill="#fff" stroke="#da3820" stroke-width="1.95"/>
<circle cx="487.20" cy="441.90" r="3.5" fill="#fff" stroke="#da3820" stroke-width="1.95"/>
<circle cx="496.30" cy="445.90" r="3.5" fill="#fff" stroke="#da3820" stroke-width="1.95"/>
<circle cx="491.70" cy="457.40" r="3.5" fill="#fff" stroke="#da3820" stroke-width="1.95"/>
<circle cx="517.20" cy="470.10" r="3.5" fill="#fff" stroke="#080808" stroke-width="1.95"/>
<circle cx="529.00" cy="471.60" r="3.5" fill="#fff" stroke="#080808" stroke-width="1.95"/>
<circle cx="526.40" cy="474.20" r="3.5" fill="#fff" stroke="#080808" stroke-width="1.95"/>
<circle cx="519.20" cy="478.90" r="3.5" fill="#fff" stroke="#080808" stroke-width="1.95"/>
<circle cx="520.90" cy="472.90" r="3.5" fill="#fff" stroke="#080808" stroke-width="1.95"/>
<circle cx="526.00" cy="484.00" r="3.5" fill="#fff" stroke="#080808" stroke-width="1.95"/>
<circle cx="524.30" cy="485.70" r="3.5" fill="#fff" stroke="#080808" stroke-width="1.95"/>
<circle cx="527.10" cy="478.70" r="3.5" fill="#fff" stroke="#080808" stroke-width="1.95"/>
<circle cx="522.60" cy="484.20" r="3.5" fill="#fff" stroke="#080808" stroke-width="1.95"/>
<circle cx="545.80" cy="385.10" r="3.5" fill="#fff" stroke="#da3820" stroke-width="1.95"/>
<circle cx="545.80" cy="404.50" r="3.5" fill="#fff" stroke="#da3820" stroke-width="1.95"/>
<circle cx="541.20" cy="419.80" r="3.5" fill="#fff" stroke="#da3820" stroke-width="1.95"/>
<circle cx="545.80" cy="418.90" r="3.5" fill="#fff" stroke="#da3820" stroke-width="1.95"/>
<circle cx="550.40" cy="430.30" r="3.5" fill="#fff" stroke="#da3820" stroke-width="1.95"/>
<circle cx="550.40" cy="443.00" r="3.5" fill="#fff" stroke="#da3820" stroke-width="1.95"/>
<circle cx="541.20" cy="445.50" r="3.5" fill="#fff" stroke="#da3820" stroke-width="1.95"/>
<circle cx="577.00" cy="472.70" r="3.5" fill="#fff" stroke="#080808" stroke-width="1.95"/>
<circle cx="571.40" cy="478.70" r="3.5" fill="#fff" stroke="#080808" stroke-width="1.95"/>
<circle cx="584.30" cy="478.30" r="3.5" fill="#fff" stroke="#080808" stroke-width="1.95"/>
<circle cx="570.60" cy="480.40" r="3.5" fill="#fff" stroke="#080808" stroke-width="1.95"/>
<circle cx="571.50" cy="481.80" r="3.5" fill="#fff" stroke="#080808" stroke-width="1.95"/>
<circle cx="572.00" cy="477.30" r="3.5" fill="#fff" stroke="#080808" stroke-width="1.95"/>
<circle cx="576.60" cy="487.30" r="3.5" fill="#fff" stroke="#080808" stroke-width="1.95"/>
<circle cx="577.80" cy="486.60" r="3.5" fill="#fff" stroke="#080808" stroke-width="1.95"/>
<circle cx="583.50" cy="480.50" r="3.5" fill="#fff" stroke="#080808" stroke-width="1.95"/>
<circle cx="574.40" cy="475.70" r="3.5" fill="#fff" stroke="#080808" stroke-width="1.95"/>
<circle cx="580.90" cy="474.40" r="3.5" fill="#fff" stroke="#080808" stroke-width="1.95"/>
<circle cx="581.30" cy="480.90" r="3.5" fill="#fff" stroke="#080808" stroke-width="1.95"/>
<circle cx="574.90" cy="482.20" r="3.5" fill="#fff" stroke="#080808" stroke-width="1.95"/>
<circle cx="600.00" cy="367.30" r="3.5" fill="#fff" stroke="#da3820" stroke-width="1.95"/>
<circle cx="604.40" cy="387.30" r="3.5" fill="#fff" stroke="#da3820" stroke-width="1.95"/>
<circle cx="595.50" cy="396.20" r="3.5" fill="#fff" stroke="#da3820" stroke-width="1.95"/>
<circle cx="595.50" cy="417.80" r="3.5" fill="#fff" stroke="#da3820" stroke-width="1.95"/>
<circle cx="604.40" cy="420.90" r="3.5" fill="#fff" stroke="#da3820" stroke-width="1.95"/>
<circle cx="604.40" cy="428.60" r="3.5" fill="#fff" stroke="#da3820" stroke-width="1.95"/>
<circle cx="595.50" cy="435.30" r="3.5" fill="#fff" stroke="#da3820" stroke-width="1.95"/>
<circle cx="636.60" cy="472.90" r="3.5" fill="#fff" stroke="#080808" stroke-width="1.95"/>
<circle cx="627.20" cy="469.65" r="3.5" fill="#fff" stroke="#080808" stroke-width="1.95"/>
<circle cx="628.40" cy="477.60" r="3.5" fill="#fff" stroke="#080808" stroke-width="1.95"/>
<circle cx="634.90" cy="478.00" r="3.5" fill="#fff" stroke="#080808" stroke-width="1.95"/>
<circle cx="634.00" cy="482.70" r="3.5" fill="#fff" stroke="#080808" stroke-width="1.95"/>
<circle cx="631.00" cy="481.00" r="3.5" fill="#fff" stroke="#080808" stroke-width="1.95"/>
<circle cx="630.20" cy="485.70" r="3.5" fill="#fff" stroke="#080808" stroke-width="1.95"/>
<circle cx="631.70" cy="488.30" r="3.5" fill="#fff" stroke="#080808" stroke-width="1.95"/>
<circle cx="654.20" cy="367.30" r="3.5" fill="#fff" stroke="#da3820" stroke-width="1.95"/>
<circle cx="654.20" cy="384.50" r="3.5" fill="#fff" stroke="#da3820" stroke-width="1.95"/>
<circle cx="654.20" cy="402.00" r="3.5" fill="#fff" stroke="#da3820" stroke-width="1.95"/>
<circle cx="654.20" cy="413.20" r="3.5" fill="#fff" stroke="#da3820" stroke-width="1.95"/>
<circle cx="654.20" cy="426.10" r="3.5" fill="#fff" stroke="#da3820" stroke-width="1.95"/>
<circle cx="658.60" cy="431.10" r="3.5" fill="#fff" stroke="#da3820" stroke-width="1.95"/>
<circle cx="649.80" cy="440.70" r="3.5" fill="#fff" stroke="#da3820" stroke-width="1.95"/>
<circle cx="682.90" cy="476.70" r="3.5" fill="#fff" stroke="#080808" stroke-width="1.95"/>
<circle cx="683.60" cy="475.80" r="3.5" fill="#fff" stroke="#080808" stroke-width="1.95"/>
<circle cx="682.40" cy="478.00" r="3.5" fill="#fff" stroke="#080808" stroke-width="1.95"/>
<circle cx="689.70" cy="478.00" r="3.5" fill="#fff" stroke="#080808" stroke-width="1.95"/>
<circle cx="687.20" cy="481.50" r="3.5" fill="#fff" stroke="#080808" stroke-width="1.95"/>
<circle cx="685.90" cy="485.70" r="3.5" fill="#fff" stroke="#080808" stroke-width="1.95"/>
<circle cx="685.40" cy="484.00" r="3.5" fill="#fff" stroke="#080808" stroke-width="1.95"/>
<circle cx="686.70" cy="485.20" r="3.5" fill="#fff" stroke="#080808" stroke-width="1.95"/>
<circle cx="684.60" cy="485.00" r="3.5" fill="#fff" stroke="#080808" stroke-width="1.95"/>
<circle cx="681.40" cy="468.15" r="3.5" fill="#fff" stroke="#080808" stroke-width="1.95"/>
<circle cx="690.40" cy="472.40" r="3.5" fill="#fff" stroke="#080808" stroke-width="1.95"/>
<circle cx="683.70" cy="479.30" r="3.5" fill="#fff" stroke="#080808" stroke-width="1.95"/>
<circle cx="703.00" cy="409.50" r="3.5" fill="#fff" stroke="#da3820" stroke-width="1.95"/>
<circle cx="714.00" cy="409.10" r="3.5" fill="#fff" stroke="#da3820" stroke-width="1.95"/>
<circle cx="710.70" cy="411.20" r="3.5" fill="#fff" stroke="#da3820" stroke-width="1.95"/>
<circle cx="706.40" cy="418.70" r="3.5" fill="#fff" stroke="#da3820" stroke-width="1.95"/>
<circle cx="703.80" cy="425.80" r="3.5" fill="#fff" stroke="#da3820" stroke-width="1.95"/>
<circle cx="712.90" cy="432.80" r="3.5" fill="#fff" stroke="#da3820" stroke-width="1.95"/>
<circle cx="708.50" cy="454.30" r="3.5" fill="#fff" stroke="#da3820" stroke-width="1.95"/>
<text x="-0.20" y="585.10" font-size="24" text-anchor="start" font-weight="bold" >e</text>
<path d="M66.40 598.90 V780.80 H335.80" fill="none" stroke="#000" stroke-width="2.2"/>
<line x1="59.90" y1="780.80" x2="66.40" y2="780.80" stroke="#000" stroke-width="2.2"/>
<text x="57.80" y="785.40" font-size="14.8" text-anchor="end" font-weight="normal" >0</text>
<line x1="59.90" y1="735.60" x2="66.40" y2="735.60" stroke="#000" stroke-width="2.2"/>
<text x="57.80" y="740.20" font-size="14.8" text-anchor="end" font-weight="normal" >10</text>
<line x1="59.90" y1="690.40" x2="66.40" y2="690.40" stroke="#000" stroke-width="2.2"/>
<text x="57.80" y="695.00" font-size="14.8" text-anchor="end" font-weight="normal" >20</text>
<line x1="59.90" y1="645.20" x2="66.40" y2="645.20" stroke="#000" stroke-width="2.2"/>
<text x="57.80" y="649.80" font-size="14.8" text-anchor="end" font-weight="normal" >30</text>
<line x1="59.90" y1="600.00" x2="66.40" y2="600.00" stroke="#000" stroke-width="2.2"/>
<text x="57.80" y="604.60" font-size="14.8" text-anchor="end" font-weight="normal" >40</text>
<line x1="93.20" y1="780.80" x2="93.20" y2="787.80" stroke="#000" stroke-width="2.2"/>
<text x="92.70" y="802.00" font-size="14.8" text-anchor="middle" font-weight="normal" >2 wks</text>
<line x1="147.20" y1="780.80" x2="147.20" y2="787.80" stroke="#000" stroke-width="2.2"/>
<text x="146.70" y="802.00" font-size="14.8" text-anchor="middle" font-weight="normal" >4 wks</text>
<line x1="201.20" y1="780.80" x2="201.20" y2="787.80" stroke="#000" stroke-width="2.2"/>
<text x="200.70" y="802.00" font-size="14.8" text-anchor="middle" font-weight="normal" >6 wks</text>
<line x1="255.20" y1="780.80" x2="255.20" y2="787.80" stroke="#000" stroke-width="2.2"/>
<text x="254.70" y="802.00" font-size="14.8" text-anchor="middle" font-weight="normal" >8 wks</text>
<line x1="309.20" y1="780.80" x2="309.20" y2="787.80" stroke="#000" stroke-width="2.2"/>
<text x="308.70" y="802.00" font-size="14.8" text-anchor="middle" font-weight="normal" >10 wks</text>
<text x="0" y="0" font-size="15.4" text-anchor="middle" textLength="106.5" lengthAdjust="spacingAndGlyphs" transform="translate(17.30,690.25) rotate(-90)">body weight (g)</text>
<text x="188.00" y="595.60" font-size="17" text-anchor="middle">SIRT3<tspan dx="1.1" dy="-9.2" font-size="16.5">+/+</tspan><tspan dx="4.9" dy="9.2" font-size="17">mice</tspan></text>
<circle cx="226.90" cy="739.30" r="3.4" fill="#fff" stroke="#080808" stroke-width="2.2"/>
<circle cx="226.90" cy="760.90" r="3.4" fill="#fff" stroke="#da3820" stroke-width="2.2"/>
<text x="248.00" y="744.10" font-size="14.7" text-anchor="start" font-weight="normal" >vehicle</text>
<text x="248.00" y="765.40" font-size="14.7" text-anchor="start" font-weight="normal" >STZ</text>
<circle cx="82.10" cy="668.10" r="3.5" fill="#fff" stroke="#080808" stroke-width="1.95"/>
<circle cx="82.10" cy="683.20" r="3.5" fill="#fff" stroke="#080808" stroke-width="1.95"/>
<circle cx="80.10" cy="679.80" r="3.5" fill="#fff" stroke="#080808" stroke-width="1.95"/>
<circle cx="78.40" cy="673.40" r="3.5" fill="#fff" stroke="#080808" stroke-width="1.95"/>
<circle cx="86.10" cy="672.10" r="3.5" fill="#fff" stroke="#080808" stroke-width="1.95"/>
<circle cx="83.40" cy="680.50" r="3.5" fill="#fff" stroke="#080808" stroke-width="1.95"/>
<circle cx="87.80" cy="690.50" r="3.5" fill="#fff" stroke="#080808" stroke-width="1.95"/>
<circle cx="79.70" cy="699.60" r="3.5" fill="#fff" stroke="#080808" stroke-width="1.95"/>
<circle cx="76.70" cy="694.50" r="3.5" fill="#fff" stroke="#080808" stroke-width="1.95"/>
<circle cx="84.40" cy="696.90" r="3.5" fill="#fff" stroke="#080808" stroke-width="1.95"/>
<circle cx="100.80" cy="664.40" r="3.5" fill="#fff" stroke="#da3820" stroke-width="1.95"/>
<circle cx="108.70" cy="667.40" r="3.5" fill="#fff" stroke="#da3820" stroke-width="1.95"/>
<circle cx="104.50" cy="673.80" r="3.5" fill="#fff" stroke="#da3820" stroke-width="1.95"/>
<circle cx="99.80" cy="681.10" r="3.5" fill="#fff" stroke="#da3820" stroke-width="1.95"/>
<circle cx="109.20" cy="687.80" r="3.5" fill="#fff" stroke="#da3820" stroke-width="1.95"/>
<circle cx="100.80" cy="692.20" r="3.5" fill="#fff" stroke="#da3820" stroke-width="1.95"/>
<circle cx="108.50" cy="694.50" r="3.5" fill="#fff" stroke="#da3820" stroke-width="1.95"/>
<circle cx="106.50" cy="699.60" r="3.5" fill="#fff" stroke="#da3820" stroke-width="1.95"/>
<circle cx="102.80" cy="699.20" r="3.5" fill="#fff" stroke="#da3820" stroke-width="1.95"/>
<circle cx="104.50" cy="703.30" r="3.5" fill="#fff" stroke="#da3820" stroke-width="1.95"/>
<circle cx="130.40" cy="669.10" r="3.5" fill="#fff" stroke="#080808" stroke-width="1.95"/>
<circle cx="141.40" cy="670.10" r="3.5" fill="#fff" stroke="#080808" stroke-width="1.95"/>
<circle cx="135.10" cy="677.50" r="3.5" fill="#fff" stroke="#080808" stroke-width="1.95"/>
<circle cx="137.70" cy="677.10" r="3.5" fill="#fff" stroke="#080808" stroke-width="1.95"/>
<circle cx="131.40" cy="662.10" r="3.5" fill="#fff" stroke="#080808" stroke-width="1.95"/>
<circle cx="140.80" cy="660.10" r="3.5" fill="#fff" stroke="#080808" stroke-width="1.95"/>
<circle cx="131.70" cy="671.80" r="3.5" fill="#fff" stroke="#080808" stroke-width="1.95"/>
<circle cx="140.80" cy="672.10" r="3.5" fill="#fff" stroke="#080808" stroke-width="1.95"/>
<circle cx="139.80" cy="694.90" r="3.5" fill="#fff" stroke="#080808" stroke-width="1.95"/>
<circle cx="130.70" cy="690.50" r="3.5" fill="#fff" stroke="#080808" stroke-width="1.95"/>
<circle cx="141.40" cy="689.90" r="3.5" fill="#fff" stroke="#080808" stroke-width="1.95"/>
<circle cx="133.70" cy="697.60" r="3.5" fill="#fff" stroke="#080808" stroke-width="1.95"/>
<circle cx="158.50" cy="662.10" r="3.5" fill="#fff" stroke="#da3820" stroke-width="1.95"/>
<circle cx="154.80" cy="673.10" r="3.5" fill="#fff" stroke="#da3820" stroke-width="1.95"/>
<circle cx="162.50" cy="674.10" r="3.5" fill="#fff" stroke="#da3820" stroke-width="1.95"/>
<circle cx="162.90" cy="683.80" r="3.5" fill="#fff" stroke="#da3820" stroke-width="1.95"/>
<circle cx="158.50" cy="680.20" r="3.5" fill="#fff" stroke="#da3820" stroke-width="1.95"/>
<circle cx="159.20" cy="691.90" r="3.5" fill="#fff" stroke="#da3820" stroke-width="1.95"/>
<circle cx="154.80" cy="686.50" r="3.5" fill="#fff" stroke="#da3820" stroke-width="1.95"/>
<circle cx="162.50" cy="701.30" r="3.5" fill="#fff" stroke="#da3820" stroke-width="1.95"/>
<circle cx="154.80" cy="697.30" r="3.5" fill="#fff" stroke="#da3820" stroke-width="1.95"/>
<circle cx="158.50" cy="707.60" r="3.5" fill="#fff" stroke="#da3820" stroke-width="1.95"/>
<circle cx="190.10" cy="650.40" r="3.5" fill="#fff" stroke="#080808" stroke-width="1.95"/>
<circle cx="186.30" cy="658.00" r="3.5" fill="#fff" stroke="#080808" stroke-width="1.95"/>
<circle cx="194.00" cy="660.50" r="3.5" fill="#fff" stroke="#080808" stroke-width="1.95"/>
<circle cx="192.90" cy="667.00" r="3.5" fill="#fff" stroke="#080808" stroke-width="1.95"/>
<circle cx="188.40" cy="665.30" r="3.5" fill="#fff" stroke="#080808" stroke-width="1.95"/>
<circle cx="194.00" cy="672.90" r="3.5" fill="#fff" stroke="#080808" stroke-width="1.95"/>
<circle cx="186.30" cy="674.00" r="3.5" fill="#fff" stroke="#080808" stroke-width="1.95"/>
<circle cx="190.10" cy="678.50" r="3.5" fill="#fff" stroke="#080808" stroke-width="1.95"/>
<circle cx="194.00" cy="689.60" r="3.5" fill="#fff" stroke="#080808" stroke-width="1.95"/>
<circle cx="186.30" cy="687.90" r="3.5" fill="#fff" stroke="#080808" stroke-width="1.95"/>
<circle cx="190.10" cy="693.70" r="3.5" fill="#fff" stroke="#080808" stroke-width="1.95"/>
<circle cx="212.70" cy="653.50" r="3.5" fill="#fff" stroke="#da3820" stroke-width="1.95"/>
<circle cx="217.90" cy="671.90" r="3.5" fill="#fff" stroke="#da3820" stroke-width="1.95"/>
<circle cx="210.60" cy="676.80" r="3.5" fill="#fff" stroke="#da3820" stroke-width="1.95"/>
<circle cx="207.10" cy="673.60" r="3.5" fill="#fff" stroke="#da3820" stroke-width="1.95"/>
<circle cx="215.10" cy="674.00" r="3.5" fill="#fff" stroke="#da3820" stroke-width="1.95"/>
<circle cx="208.20" cy="684.70" r="3.5" fill="#fff" stroke="#da3820" stroke-width="1.95"/>
<circle cx="217.20" cy="687.20" r="3.5" fill="#fff" stroke="#da3820" stroke-width="1.95"/>
<circle cx="208.90" cy="695.10" r="3.5" fill="#fff" stroke="#da3820" stroke-width="1.95"/>
<circle cx="212.70" cy="703.50" r="3.5" fill="#fff" stroke="#da3820" stroke-width="1.95"/>
<circle cx="216.50" cy="702.80" r="3.5" fill="#fff" stroke="#da3820" stroke-width="1.95"/>
<circle cx="244.10" cy="646.90" r="3.5" fill="#fff" stroke="#080808" stroke-width="1.95"/>
<circle cx="240.70" cy="657.70" r="3.5" fill="#fff" stroke="#080808" stroke-width="1.95"/>
<circle cx="248.00" cy="658.70" r="3.5" fill="#fff" stroke="#080808" stroke-width="1.95"/>
<circle cx="246.60" cy="663.90" r="3.5" fill="#fff" stroke="#080808" stroke-width="1.95"/>
<circle cx="240.70" cy="669.10" r="3.5" fill="#fff" stroke="#080808" stroke-width="1.95"/>
<circle cx="248.00" cy="668.10" r="3.5" fill="#fff" stroke="#080808" stroke-width="1.95"/>
<circle cx="244.10" cy="678.10" r="3.5" fill="#fff" stroke="#080808" stroke-width="1.95"/>
<circle cx="240.30" cy="684.70" r="3.5" fill="#fff" stroke="#080808" stroke-width="1.95"/>
<circle cx="248.30" cy="689.20" r="3.5" fill="#fff" stroke="#080808" stroke-width="1.95"/>
<circle cx="244.10" cy="689.60" r="3.5" fill="#fff" stroke="#080808" stroke-width="1.95"/>
<circle cx="266.70" cy="651.10" r="3.5" fill="#fff" stroke="#da3820" stroke-width="1.95"/>
<circle cx="271.20" cy="662.20" r="3.5" fill="#fff" stroke="#da3820" stroke-width="1.95"/>
<circle cx="262.90" cy="676.10" r="3.5" fill="#fff" stroke="#da3820" stroke-width="1.95"/>
<circle cx="262.20" cy="670.20" r="3.5" fill="#fff" stroke="#da3820" stroke-width="1.95"/>
<circle cx="270.50" cy="672.60" r="3.5" fill="#fff" stroke="#da3820" stroke-width="1.95"/>
<circle cx="266.70" cy="682.30" r="3.5" fill="#fff" stroke="#da3820" stroke-width="1.95"/>
<circle cx="272.20" cy="694.40" r="3.5" fill="#fff" stroke="#da3820" stroke-width="1.95"/>
<circle cx="264.60" cy="702.10" r="3.5" fill="#fff" stroke="#da3820" stroke-width="1.95"/>
<circle cx="261.10" cy="698.90" r="3.5" fill="#fff" stroke="#da3820" stroke-width="1.95"/>
<circle cx="269.10" cy="699.60" r="3.5" fill="#fff" stroke="#da3820" stroke-width="1.95"/>
<circle cx="298.20" cy="640.00" r="3.5" fill="#fff" stroke="#080808" stroke-width="1.95"/>
<circle cx="303.80" cy="649.80" r="3.5" fill="#fff" stroke="#080808" stroke-width="1.95"/>
<circle cx="293.00" cy="655.50" r="3.5" fill="#fff" stroke="#080808" stroke-width="1.95"/>
<circle cx="300.40" cy="659.20" r="3.5" fill="#fff" stroke="#080808" stroke-width="1.95"/>
<circle cx="292.70" cy="662.50" r="3.5" fill="#fff" stroke="#080808" stroke-width="1.95"/>
<circle cx="296.00" cy="661.10" r="3.5" fill="#fff" stroke="#080808" stroke-width="1.95"/>
<circle cx="303.80" cy="667.00" r="3.5" fill="#fff" stroke="#080808" stroke-width="1.95"/>
<circle cx="295.60" cy="669.90" r="3.5" fill="#fff" stroke="#080808" stroke-width="1.95"/>
<circle cx="300.40" cy="673.60" r="3.5" fill="#fff" stroke="#080808" stroke-width="1.95"/>
<circle cx="294.50" cy="683.30" r="3.5" fill="#fff" stroke="#080808" stroke-width="1.95"/>
<circle cx="301.90" cy="685.80" r="3.5" fill="#fff" stroke="#080808" stroke-width="1.95"/>
<circle cx="298.20" cy="687.70" r="3.5" fill="#fff" stroke="#080808" stroke-width="1.95"/>
<circle cx="320.80" cy="645.50" r="3.5" fill="#fff" stroke="#da3820" stroke-width="1.95"/>
<circle cx="326.30" cy="663.70" r="3.5" fill="#fff" stroke="#da3820" stroke-width="1.95"/>
<circle cx="315.60" cy="665.90" r="3.5" fill="#fff" stroke="#da3820" stroke-width="1.95"/>
<circle cx="317.80" cy="674.00" r="3.5" fill="#fff" stroke="#da3820" stroke-width="1.95"/>
<circle cx="323.00" cy="673.30" r="3.5" fill="#fff" stroke="#da3820" stroke-width="1.95"/>
<circle cx="316.00" cy="682.90" r="3.5" fill="#fff" stroke="#da3820" stroke-width="1.95"/>
<circle cx="317.10" cy="687.30" r="3.5" fill="#fff" stroke="#da3820" stroke-width="1.95"/>
<circle cx="325.20" cy="685.50" r="3.5" fill="#fff" stroke="#da3820" stroke-width="1.95"/>
<circle cx="320.80" cy="697.30" r="3.5" fill="#fff" stroke="#da3820" stroke-width="1.95"/>
<circle cx="324.50" cy="695.10" r="3.5" fill="#fff" stroke="#da3820" stroke-width="1.95"/>
<text x="386.40" y="585.10" font-size="24" text-anchor="start" font-weight="bold" >f</text>
<path d="M453.00 598.90 V780.80 H722.40" fill="none" stroke="#000" stroke-width="2.2"/>
<line x1="446.50" y1="780.80" x2="453.00" y2="780.80" stroke="#000" stroke-width="2.2"/>
<text x="444.40" y="785.40" font-size="14.8" text-anchor="end" font-weight="normal" >0</text>
<line x1="446.50" y1="735.60" x2="453.00" y2="735.60" stroke="#000" stroke-width="2.2"/>
<text x="444.40" y="740.20" font-size="14.8" text-anchor="end" font-weight="normal" >10</text>
<line x1="446.50" y1="690.40" x2="453.00" y2="690.40" stroke="#000" stroke-width="2.2"/>
<text x="444.40" y="695.00" font-size="14.8" text-anchor="end" font-weight="normal" >20</text>
<line x1="446.50" y1="645.20" x2="453.00" y2="645.20" stroke="#000" stroke-width="2.2"/>
<text x="444.40" y="649.80" font-size="14.8" text-anchor="end" font-weight="normal" >30</text>
<line x1="446.50" y1="600.00" x2="453.00" y2="600.00" stroke="#000" stroke-width="2.2"/>
<text x="444.40" y="604.60" font-size="14.8" text-anchor="end" font-weight="normal" >40</text>
<line x1="479.80" y1="780.80" x2="479.80" y2="787.80" stroke="#000" stroke-width="2.2"/>
<text x="479.30" y="802.00" font-size="14.8" text-anchor="middle" font-weight="normal" >2 wks</text>
<line x1="533.80" y1="780.80" x2="533.80" y2="787.80" stroke="#000" stroke-width="2.2"/>
<text x="533.30" y="802.00" font-size="14.8" text-anchor="middle" font-weight="normal" >4 wks</text>
<line x1="587.80" y1="780.80" x2="587.80" y2="787.80" stroke="#000" stroke-width="2.2"/>
<text x="587.30" y="802.00" font-size="14.8" text-anchor="middle" font-weight="normal" >6 wks</text>
<line x1="641.80" y1="780.80" x2="641.80" y2="787.80" stroke="#000" stroke-width="2.2"/>
<text x="641.30" y="802.00" font-size="14.8" text-anchor="middle" font-weight="normal" >8 wks</text>
<line x1="695.80" y1="780.80" x2="695.80" y2="787.80" stroke="#000" stroke-width="2.2"/>
<text x="695.30" y="802.00" font-size="14.8" text-anchor="middle" font-weight="normal" >10 wks</text>
<text x="0" y="0" font-size="15.4" text-anchor="middle" textLength="106.5" lengthAdjust="spacingAndGlyphs" transform="translate(403.90,690.25) rotate(-90)">body weight (g)</text>
<text x="574.60" y="595.60" font-size="17" text-anchor="middle">SIRT3<tspan dx="1.1" dy="-9.2" font-size="16.5">-/-</tspan><tspan dx="4.9" dy="9.2" font-size="17">mice</tspan></text>
<circle cx="613.90" cy="741.50" r="3.4" fill="#fff" stroke="#080808" stroke-width="2.2"/>
<circle cx="613.90" cy="762.20" r="3.4" fill="#fff" stroke="#da3820" stroke-width="2.2"/>
<text x="635.00" y="746.30" font-size="14.7" text-anchor="start" font-weight="normal" >vehicle</text>
<text x="635.00" y="766.70" font-size="14.7" text-anchor="start" font-weight="normal" >STZ</text>
<circle cx="474.10" cy="673.40" r="3.5" fill="#fff" stroke="#080808" stroke-width="1.95"/>
<circle cx="463.40" cy="678.10" r="3.5" fill="#fff" stroke="#080808" stroke-width="1.95"/>
<circle cx="471.10" cy="684.10" r="3.5" fill="#fff" stroke="#080808" stroke-width="1.95"/>
<circle cx="466.40" cy="684.80" r="3.5" fill="#fff" stroke="#080808" stroke-width="1.95"/>
<circle cx="468.70" cy="697.20" r="3.5" fill="#fff" stroke="#080808" stroke-width="1.95"/>
<circle cx="463.00" cy="701.20" r="3.5" fill="#fff" stroke="#080808" stroke-width="1.95"/>
<circle cx="474.40" cy="700.50" r="3.5" fill="#fff" stroke="#080808" stroke-width="1.95"/>
<circle cx="471.40" cy="706.60" r="3.5" fill="#fff" stroke="#080808" stroke-width="1.95"/>
<circle cx="466.70" cy="710.90" r="3.5" fill="#fff" stroke="#080808" stroke-width="1.95"/>
<circle cx="486.80" cy="677.80" r="3.5" fill="#fff" stroke="#da3820" stroke-width="1.95"/>
<circle cx="495.90" cy="676.40" r="3.5" fill="#fff" stroke="#da3820" stroke-width="1.95"/>
<circle cx="487.50" cy="688.80" r="3.5" fill="#fff" stroke="#da3820" stroke-width="1.95"/>
<circle cx="495.20" cy="688.20" r="3.5" fill="#fff" stroke="#da3820" stroke-width="1.95"/>
<circle cx="493.20" cy="695.20" r="3.5" fill="#fff" stroke="#da3820" stroke-width="1.95"/>
<circle cx="490.90" cy="698.20" r="3.5" fill="#fff" stroke="#da3820" stroke-width="1.95"/>
<circle cx="489.50" cy="697.50" r="3.5" fill="#fff" stroke="#da3820" stroke-width="1.95"/>
<circle cx="491.20" cy="711.90" r="3.5" fill="#fff" stroke="#da3820" stroke-width="1.95"/>
<circle cx="518.00" cy="668.40" r="3.5" fill="#fff" stroke="#080808" stroke-width="1.95"/>
<circle cx="527.10" cy="669.70" r="3.5" fill="#fff" stroke="#080808" stroke-width="1.95"/>
<circle cx="518.00" cy="682.10" r="3.5" fill="#fff" stroke="#080808" stroke-width="1.95"/>
<circle cx="527.10" cy="682.10" r="3.5" fill="#fff" stroke="#080808" stroke-width="1.95"/>
<circle cx="518.00" cy="693.20" r="3.5" fill="#fff" stroke="#080808" stroke-width="1.95"/>
<circle cx="527.10" cy="693.90" r="3.5" fill="#fff" stroke="#080808" stroke-width="1.95"/>
<circle cx="519.00" cy="700.20" r="3.5" fill="#fff" stroke="#080808" stroke-width="1.95"/>
<circle cx="526.80" cy="702.30" r="3.5" fill="#fff" stroke="#080808" stroke-width="1.95"/>
<circle cx="522.70" cy="708.00" r="3.5" fill="#fff" stroke="#080808" stroke-width="1.95"/>
<circle cx="541.50" cy="675.10" r="3.5" fill="#fff" stroke="#da3820" stroke-width="1.95"/>
<circle cx="548.90" cy="678.10" r="3.5" fill="#fff" stroke="#da3820" stroke-width="1.95"/>
<circle cx="545.50" cy="684.80" r="3.5" fill="#fff" stroke="#da3820" stroke-width="1.95"/>
<circle cx="539.80" cy="689.20" r="3.5" fill="#fff" stroke="#da3820" stroke-width="1.95"/>
<circle cx="550.50" cy="692.20" r="3.5" fill="#fff" stroke="#da3820" stroke-width="1.95"/>
<circle cx="542.80" cy="694.20" r="3.5" fill="#fff" stroke="#da3820" stroke-width="1.95"/>
<circle cx="547.50" cy="700.60" r="3.5" fill="#fff" stroke="#da3820" stroke-width="1.95"/>
<circle cx="545.20" cy="711.60" r="3.5" fill="#fff" stroke="#da3820" stroke-width="1.95"/>
<circle cx="581.10" cy="666.10" r="3.5" fill="#fff" stroke="#080808" stroke-width="1.95"/>
<circle cx="572.00" cy="669.70" r="3.5" fill="#fff" stroke="#080808" stroke-width="1.95"/>
<circle cx="572.00" cy="680.50" r="3.5" fill="#fff" stroke="#080808" stroke-width="1.95"/>
<circle cx="581.10" cy="682.10" r="3.5" fill="#fff" stroke="#080808" stroke-width="1.95"/>
<circle cx="573.00" cy="689.90" r="3.5" fill="#fff" stroke="#080808" stroke-width="1.95"/>
<circle cx="580.80" cy="692.50" r="3.5" fill="#fff" stroke="#080808" stroke-width="1.95"/>
<circle cx="578.70" cy="697.90" r="3.5" fill="#fff" stroke="#080808" stroke-width="1.95"/>
<circle cx="574.70" cy="694.50" r="3.5" fill="#fff" stroke="#080808" stroke-width="1.95"/>
<circle cx="576.70" cy="701.60" r="3.5" fill="#fff" stroke="#080808" stroke-width="1.95"/>
<circle cx="599.20" cy="671.40" r="3.5" fill="#fff" stroke="#da3820" stroke-width="1.95"/>
<circle cx="603.90" cy="679.10" r="3.5" fill="#fff" stroke="#da3820" stroke-width="1.95"/>
<circle cx="594.80" cy="682.80" r="3.5" fill="#fff" stroke="#da3820" stroke-width="1.95"/>
<circle cx="593.80" cy="690.50" r="3.5" fill="#fff" stroke="#da3820" stroke-width="1.95"/>
<circle cx="604.90" cy="691.50" r="3.5" fill="#fff" stroke="#da3820" stroke-width="1.95"/>
<circle cx="596.50" cy="693.90" r="3.5" fill="#fff" stroke="#da3820" stroke-width="1.95"/>
<circle cx="601.50" cy="696.20" r="3.5" fill="#fff" stroke="#da3820" stroke-width="1.95"/>
<circle cx="599.20" cy="708.60" r="3.5" fill="#fff" stroke="#da3820" stroke-width="1.95"/>
<circle cx="635.40" cy="663.40" r="3.5" fill="#fff" stroke="#080808" stroke-width="1.95"/>
<circle cx="626.40" cy="669.10" r="3.5" fill="#fff" stroke="#080808" stroke-width="1.95"/>
<circle cx="626.70" cy="685.50" r="3.5" fill="#fff" stroke="#080808" stroke-width="1.95"/>
<circle cx="626.40" cy="680.50" r="3.5" fill="#fff" stroke="#080808" stroke-width="1.95"/>
<circle cx="635.40" cy="681.10" r="3.5" fill="#fff" stroke="#080808" stroke-width="1.95"/>
<circle cx="628.70" cy="691.20" r="3.5" fill="#fff" stroke="#080808" stroke-width="1.95"/>
<circle cx="634.40" cy="689.90" r="3.5" fill="#fff" stroke="#080808" stroke-width="1.95"/>
<circle cx="629.50" cy="692.60" r="3.5" fill="#fff" stroke="#080808" stroke-width="1.95"/>
<circle cx="633.60" cy="692.80" r="3.5" fill="#fff" stroke="#080808" stroke-width="1.95"/>
<circle cx="630.70" cy="692.20" r="3.5" fill="#fff" stroke="#080808" stroke-width="1.95"/>
<circle cx="632.40" cy="691.50" r="3.5" fill="#fff" stroke="#080808" stroke-width="1.95"/>
<circle cx="648.20" cy="672.40" r="3.5" fill="#fff" stroke="#da3820" stroke-width="1.95"/>
<circle cx="658.90" cy="678.10" r="3.5" fill="#fff" stroke="#da3820" stroke-width="1.95"/>
<circle cx="650.80" cy="680.80" r="3.5" fill="#fff" stroke="#da3820" stroke-width="1.95"/>
<circle cx="655.90" cy="682.80" r="3.5" fill="#fff" stroke="#da3820" stroke-width="1.95"/>
<circle cx="647.80" cy="691.90" r="3.5" fill="#fff" stroke="#da3820" stroke-width="1.95"/>
<circle cx="658.90" cy="690.90" r="3.5" fill="#fff" stroke="#da3820" stroke-width="1.95"/>
<circle cx="655.90" cy="696.20" r="3.5" fill="#fff" stroke="#da3820" stroke-width="1.95"/>
<circle cx="651.20" cy="701.90" r="3.5" fill="#fff" stroke="#da3820" stroke-width="1.95"/>
<circle cx="689.40" cy="659.40" r="3.5" fill="#fff" stroke="#080808" stroke-width="1.95"/>
<circle cx="680.40" cy="667.80" r="3.5" fill="#fff" stroke="#080808" stroke-width="1.95"/>
<circle cx="679.40" cy="674.10" r="3.5" fill="#fff" stroke="#080808" stroke-width="1.95"/>
<circle cx="690.40" cy="676.80" r="3.5" fill="#fff" stroke="#080808" stroke-width="1.95"/>
<circle cx="682.40" cy="680.20" r="3.5" fill="#fff" stroke="#080808" stroke-width="1.95"/>
<circle cx="687.10" cy="680.50" r="3.5" fill="#fff" stroke="#080808" stroke-width="1.95"/>
<circle cx="681.00" cy="689.50" r="3.5" fill="#fff" stroke="#080808" stroke-width="1.95"/>
<circle cx="684.70" cy="691.90" r="3.5" fill="#fff" stroke="#080808" stroke-width="1.95"/>
<circle cx="688.80" cy="690.50" r="3.5" fill="#fff" stroke="#080808" stroke-width="1.95"/>
<circle cx="707.50" cy="662.70" r="3.5" fill="#fff" stroke="#da3820" stroke-width="1.95"/>
<circle cx="702.80" cy="676.80" r="3.5" fill="#fff" stroke="#da3820" stroke-width="1.95"/>
<circle cx="711.90" cy="675.10" r="3.5" fill="#fff" stroke="#da3820" stroke-width="1.95"/>
<circle cx="702.20" cy="680.80" r="3.5" fill="#fff" stroke="#da3820" stroke-width="1.95"/>
<circle cx="712.90" cy="682.20" r="3.5" fill="#fff" stroke="#da3820" stroke-width="1.95"/>
<circle cx="710.20" cy="688.90" r="3.5" fill="#fff" stroke="#da3820" stroke-width="1.95"/>
<circle cx="704.80" cy="686.50" r="3.5" fill="#fff" stroke="#da3820" stroke-width="1.95"/>
<circle cx="707.50" cy="700.90" r="3.5" fill="#fff" stroke="#da3820" stroke-width="1.95"/>
<text x="-0.20" y="863.60" font-size="24" text-anchor="start" font-weight="bold" >g</text>
<path d="M66.40 877.40 V1058.90 H335.80" fill="none" stroke="#000" stroke-width="2.2"/>
<line x1="59.90" y1="1058.90" x2="66.40" y2="1058.90" stroke="#000" stroke-width="2.2"/>
<text x="57.80" y="1063.50" font-size="14.8" text-anchor="end" font-weight="normal" >0</text>
<line x1="59.90" y1="1013.80" x2="66.40" y2="1013.80" stroke="#000" stroke-width="2.2"/>
<text x="57.80" y="1018.40" font-size="14.8" text-anchor="end" font-weight="normal" >10</text>
<line x1="59.90" y1="968.70" x2="66.40" y2="968.70" stroke="#000" stroke-width="2.2"/>
<text x="57.80" y="973.30" font-size="14.8" text-anchor="end" font-weight="normal" >20</text>
<line x1="59.90" y1="923.60" x2="66.40" y2="923.60" stroke="#000" stroke-width="2.2"/>
<text x="57.80" y="928.20" font-size="14.8" text-anchor="end" font-weight="normal" >30</text>
<line x1="59.90" y1="878.50" x2="66.40" y2="878.50" stroke="#000" stroke-width="2.2"/>
<text x="57.80" y="883.10" font-size="14.8" text-anchor="end" font-weight="normal" >40</text>
<line x1="93.20" y1="1058.90" x2="93.20" y2="1065.90" stroke="#000" stroke-width="2.2"/>
<text x="92.70" y="1080.10" font-size="14.8" text-anchor="middle" font-weight="normal" >2 wks</text>
<line x1="147.20" y1="1058.90" x2="147.20" y2="1065.90" stroke="#000" stroke-width="2.2"/>
<text x="146.70" y="1080.10" font-size="14.8" text-anchor="middle" font-weight="normal" >4 wks</text>
<line x1="201.20" y1="1058.90" x2="201.20" y2="1065.90" stroke="#000" stroke-width="2.2"/>
<text x="200.70" y="1080.10" font-size="14.8" text-anchor="middle" font-weight="normal" >6 wks</text>
<line x1="255.20" y1="1058.90" x2="255.20" y2="1065.90" stroke="#000" stroke-width="2.2"/>
<text x="254.70" y="1080.10" font-size="14.8" text-anchor="middle" font-weight="normal" >8 wks</text>
<line x1="309.20" y1="1058.90" x2="309.20" y2="1065.90" stroke="#000" stroke-width="2.2"/>
<text x="308.70" y="1080.10" font-size="14.8" text-anchor="middle" font-weight="normal" >10 wks</text>
<text x="0" y="0" font-size="15.4" text-anchor="middle" textLength="106.5" lengthAdjust="spacingAndGlyphs" transform="translate(17.30,968.75) rotate(-90)">body weight (g)</text>
<text x="188.00" y="874.10" font-size="17" text-anchor="middle">SIRT5<tspan dx="1.1" dy="-9.2" font-size="16.5">+/+</tspan><tspan dx="4.9" dy="9.2" font-size="17">mice</tspan></text>
<circle cx="226.90" cy="1019.60" r="3.4" fill="#fff" stroke="#080808" stroke-width="2.2"/>
<circle cx="226.90" cy="1040.10" r="3.4" fill="#fff" stroke="#da3820" stroke-width="2.2"/>
<text x="248.00" y="1024.40" font-size="14.7" text-anchor="start" font-weight="normal" >vehicle</text>
<text x="248.00" y="1044.60" font-size="14.7" text-anchor="start" font-weight="normal" >STZ</text>
<circle cx="76.70" cy="949.80" r="3.5" fill="#fff" stroke="#080808" stroke-width="1.95"/>
<circle cx="87.40" cy="948.40" r="3.5" fill="#fff" stroke="#080808" stroke-width="1.95"/>
<circle cx="80.40" cy="950.80" r="3.5" fill="#fff" stroke="#080808" stroke-width="1.95"/>
<circle cx="83.40" cy="954.50" r="3.5" fill="#fff" stroke="#080808" stroke-width="1.95"/>
<circle cx="76.70" cy="944.10" r="3.5" fill="#fff" stroke="#080808" stroke-width="1.95"/>
<circle cx="86.40" cy="950.10" r="3.5" fill="#fff" stroke="#080808" stroke-width="1.95"/>
<circle cx="86.40" cy="967.20" r="3.5" fill="#fff" stroke="#080808" stroke-width="1.95"/>
<circle cx="77.40" cy="975.60" r="3.5" fill="#fff" stroke="#080808" stroke-width="1.95"/>
<circle cx="100.80" cy="940.40" r="3.5" fill="#fff" stroke="#da3820" stroke-width="1.95"/>
<circle cx="108.20" cy="938.40" r="3.5" fill="#fff" stroke="#da3820" stroke-width="1.95"/>
<circle cx="104.50" cy="948.10" r="3.5" fill="#fff" stroke="#da3820" stroke-width="1.95"/>
<circle cx="109.20" cy="963.80" r="3.5" fill="#fff" stroke="#da3820" stroke-width="1.95"/>
<circle cx="100.20" cy="970.50" r="3.5" fill="#fff" stroke="#da3820" stroke-width="1.95"/>
<circle cx="130.70" cy="942.10" r="3.5" fill="#fff" stroke="#080808" stroke-width="1.95"/>
<circle cx="141.80" cy="944.10" r="3.5" fill="#fff" stroke="#080808" stroke-width="1.95"/>
<circle cx="131.40" cy="945.80" r="3.5" fill="#fff" stroke="#080808" stroke-width="1.95"/>
<circle cx="140.80" cy="945.80" r="3.5" fill="#fff" stroke="#080808" stroke-width="1.95"/>
<circle cx="137.40" cy="952.10" r="3.5" fill="#fff" stroke="#080808" stroke-width="1.95"/>
<circle cx="140.80" cy="961.50" r="3.5" fill="#fff" stroke="#080808" stroke-width="1.95"/>
<circle cx="131.70" cy="970.20" r="3.5" fill="#fff" stroke="#080808" stroke-width="1.95"/>
<circle cx="154.20" cy="940.70" r="3.5" fill="#fff" stroke="#da3820" stroke-width="1.95"/>
<circle cx="158.90" cy="936.40" r="3.5" fill="#fff" stroke="#da3820" stroke-width="1.95"/>
<circle cx="163.20" cy="952.80" r="3.5" fill="#fff" stroke="#da3820" stroke-width="1.95"/>
<circle cx="163.20" cy="947.80" r="3.5" fill="#fff" stroke="#da3820" stroke-width="1.95"/>
<circle cx="154.20" cy="962.20" r="3.5" fill="#fff" stroke="#da3820" stroke-width="1.95"/>
<circle cx="190.10" cy="934.40" r="3.5" fill="#fff" stroke="#080808" stroke-width="1.95"/>
<circle cx="186.40" cy="941.40" r="3.5" fill="#fff" stroke="#080808" stroke-width="1.95"/>
<circle cx="194.10" cy="940.80" r="3.5" fill="#fff" stroke="#080808" stroke-width="1.95"/>
<circle cx="192.40" cy="943.80" r="3.5" fill="#fff" stroke="#080808" stroke-width="1.95"/>
<circle cx="188.40" cy="945.10" r="3.5" fill="#fff" stroke="#080808" stroke-width="1.95"/>
<circle cx="190.10" cy="952.20" r="3.5" fill="#fff" stroke="#080808" stroke-width="1.95"/>
<circle cx="194.80" cy="958.90" r="3.5" fill="#fff" stroke="#080808" stroke-width="1.95"/>
<circle cx="185.70" cy="967.60" r="3.5" fill="#fff" stroke="#080808" stroke-width="1.95"/>
<circle cx="212.90" cy="927.40" r="3.5" fill="#fff" stroke="#da3820" stroke-width="1.95"/>
<circle cx="208.20" cy="934.10" r="3.5" fill="#fff" stroke="#da3820" stroke-width="1.95"/>
<circle cx="217.20" cy="940.80" r="3.5" fill="#fff" stroke="#da3820" stroke-width="1.95"/>
<circle cx="217.20" cy="952.50" r="3.5" fill="#fff" stroke="#da3820" stroke-width="1.95"/>
<circle cx="208.20" cy="955.20" r="3.5" fill="#fff" stroke="#da3820" stroke-width="1.95"/>
<circle cx="238.70" cy="935.40" r="3.5" fill="#fff" stroke="#080808" stroke-width="1.95"/>
<circle cx="249.80" cy="937.80" r="3.5" fill="#fff" stroke="#080808" stroke-width="1.95"/>
<circle cx="242.70" cy="943.80" r="3.5" fill="#fff" stroke="#080808" stroke-width="1.95"/>
<circle cx="245.70" cy="945.20" r="3.5" fill="#fff" stroke="#080808" stroke-width="1.95"/>
<circle cx="239.70" cy="939.80" r="3.5" fill="#fff" stroke="#080808" stroke-width="1.95"/>
<circle cx="248.80" cy="940.50" r="3.5" fill="#fff" stroke="#080808" stroke-width="1.95"/>
<circle cx="248.80" cy="956.90" r="3.5" fill="#fff" stroke="#080808" stroke-width="1.95"/>
<circle cx="239.70" cy="965.90" r="3.5" fill="#fff" stroke="#080808" stroke-width="1.95"/>
<circle cx="266.90" cy="921.00" r="3.5" fill="#fff" stroke="#da3820" stroke-width="1.95"/>
<circle cx="262.20" cy="932.40" r="3.5" fill="#fff" stroke="#da3820" stroke-width="1.95"/>
<circle cx="271.20" cy="936.80" r="3.5" fill="#fff" stroke="#da3820" stroke-width="1.95"/>
<circle cx="271.20" cy="950.20" r="3.5" fill="#fff" stroke="#da3820" stroke-width="1.95"/>
<circle cx="262.20" cy="959.60" r="3.5" fill="#fff" stroke="#da3820" stroke-width="1.95"/>
<circle cx="298.10" cy="926.40" r="3.5" fill="#fff" stroke="#080808" stroke-width="1.95"/>
<circle cx="303.80" cy="935.40" r="3.5" fill="#fff" stroke="#080808" stroke-width="1.95"/>
<circle cx="293.00" cy="937.10" r="3.5" fill="#fff" stroke="#080808" stroke-width="1.95"/>
<circle cx="300.40" cy="938.10" r="3.5" fill="#fff" stroke="#080808" stroke-width="1.95"/>
<circle cx="293.70" cy="947.20" r="3.5" fill="#fff" stroke="#080808" stroke-width="1.95"/>
<circle cx="302.80" cy="954.50" r="3.5" fill="#fff" stroke="#080808" stroke-width="1.95"/>
<circle cx="298.10" cy="965.90" r="3.5" fill="#fff" stroke="#080808" stroke-width="1.95"/>
<circle cx="324.20" cy="923.40" r="3.5" fill="#fff" stroke="#da3820" stroke-width="1.95"/>
<circle cx="316.80" cy="928.40" r="3.5" fill="#fff" stroke="#da3820" stroke-width="1.95"/>
<circle cx="320.90" cy="934.10" r="3.5" fill="#fff" stroke="#da3820" stroke-width="1.95"/>
<circle cx="325.20" cy="943.80" r="3.5" fill="#fff" stroke="#da3820" stroke-width="1.95"/>
<circle cx="316.20" cy="950.50" r="3.5" fill="#fff" stroke="#da3820" stroke-width="1.95"/>
<text x="386.40" y="863.60" font-size="24" text-anchor="start" font-weight="bold" >h</text>
<path d="M453.00 877.40 V1058.90 H722.40" fill="none" stroke="#000" stroke-width="2.2"/>
<line x1="446.50" y1="1058.90" x2="453.00" y2="1058.90" stroke="#000" stroke-width="2.2"/>
<text x="444.40" y="1063.50" font-size="14.8" text-anchor="end" font-weight="normal" >0</text>
<line x1="446.50" y1="1013.80" x2="453.00" y2="1013.80" stroke="#000" stroke-width="2.2"/>
<text x="444.40" y="1018.40" font-size="14.8" text-anchor="end" font-weight="normal" >10</text>
<line x1="446.50" y1="968.70" x2="453.00" y2="968.70" stroke="#000" stroke-width="2.2"/>
<text x="444.40" y="973.30" font-size="14.8" text-anchor="end" font-weight="normal" >20</text>
<line x1="446.50" y1="923.60" x2="453.00" y2="923.60" stroke="#000" stroke-width="2.2"/>
<text x="444.40" y="928.20" font-size="14.8" text-anchor="end" font-weight="normal" >30</text>
<line x1="446.50" y1="878.50" x2="453.00" y2="878.50" stroke="#000" stroke-width="2.2"/>
<text x="444.40" y="883.10" font-size="14.8" text-anchor="end" font-weight="normal" >40</text>
<line x1="479.80" y1="1058.90" x2="479.80" y2="1065.90" stroke="#000" stroke-width="2.2"/>
<text x="479.30" y="1080.10" font-size="14.8" text-anchor="middle" font-weight="normal" >2 wks</text>
<line x1="533.80" y1="1058.90" x2="533.80" y2="1065.90" stroke="#000" stroke-width="2.2"/>
<text x="533.30" y="1080.10" font-size="14.8" text-anchor="middle" font-weight="normal" >4 wks</text>
<line x1="587.80" y1="1058.90" x2="587.80" y2="1065.90" stroke="#000" stroke-width="2.2"/>
<text x="587.30" y="1080.10" font-size="14.8" text-anchor="middle" font-weight="normal" >6 wks</text>
<line x1="641.80" y1="1058.90" x2="641.80" y2="1065.90" stroke="#000" stroke-width="2.2"/>
<text x="641.30" y="1080.10" font-size="14.8" text-anchor="middle" font-weight="normal" >8 wks</text>
<line x1="695.80" y1="1058.90" x2="695.80" y2="1065.90" stroke="#000" stroke-width="2.2"/>
<text x="695.30" y="1080.10" font-size="14.8" text-anchor="middle" font-weight="normal" >10 wks</text>
<text x="0" y="0" font-size="15.4" text-anchor="middle" textLength="106.5" lengthAdjust="spacingAndGlyphs" transform="translate(403.90,968.75) rotate(-90)">body weight (g)</text>
<text x="574.60" y="874.10" font-size="17" text-anchor="middle">SIRT5<tspan dx="1.1" dy="-9.2" font-size="16.5">-/-</tspan><tspan dx="4.9" dy="9.2" font-size="17">mice</tspan></text>
<circle cx="613.90" cy="1018.00" r="3.4" fill="#fff" stroke="#080808" stroke-width="2.2"/>
<circle cx="613.90" cy="1038.70" r="3.4" fill="#fff" stroke="#da3820" stroke-width="2.2"/>
<text x="635.00" y="1022.80" font-size="14.7" text-anchor="start" font-weight="normal" >vehicle</text>
<text x="635.00" y="1043.20" font-size="14.7" text-anchor="start" font-weight="normal" >STZ</text>
<circle cx="468.70" cy="927.10" r="3.5" fill="#fff" stroke="#080808" stroke-width="1.95"/>
<circle cx="464.70" cy="934.10" r="3.5" fill="#fff" stroke="#080808" stroke-width="1.95"/>
<circle cx="472.40" cy="937.10" r="3.5" fill="#fff" stroke="#080808" stroke-width="1.95"/>
<circle cx="466.70" cy="940.80" r="3.5" fill="#fff" stroke="#080808" stroke-width="1.95"/>
<circle cx="468.10" cy="943.80" r="3.5" fill="#fff" stroke="#080808" stroke-width="1.95"/>
<circle cx="470.40" cy="943.20" r="3.5" fill="#fff" stroke="#080808" stroke-width="1.95"/>
<circle cx="463.40" cy="957.90" r="3.5" fill="#fff" stroke="#080808" stroke-width="1.95"/>
<circle cx="474.10" cy="961.60" r="3.5" fill="#fff" stroke="#080808" stroke-width="1.95"/>
<circle cx="466.40" cy="962.90" r="3.5" fill="#fff" stroke="#080808" stroke-width="1.95"/>
<circle cx="471.10" cy="968.60" r="3.5" fill="#fff" stroke="#080808" stroke-width="1.95"/>
<circle cx="464.70" cy="970.00" r="3.5" fill="#fff" stroke="#080808" stroke-width="1.95"/>
<circle cx="472.80" cy="979.00" r="3.5" fill="#fff" stroke="#080808" stroke-width="1.95"/>
<circle cx="468.70" cy="979.70" r="3.5" fill="#fff" stroke="#080808" stroke-width="1.95"/>
<circle cx="495.50" cy="934.40" r="3.5" fill="#fff" stroke="#da3820" stroke-width="1.95"/>
<circle cx="486.50" cy="943.80" r="3.5" fill="#fff" stroke="#da3820" stroke-width="1.95"/>
<circle cx="486.50" cy="940.10" r="3.5" fill="#fff" stroke="#da3820" stroke-width="1.95"/>
<circle cx="494.90" cy="959.20" r="3.5" fill="#fff" stroke="#da3820" stroke-width="1.95"/>
<circle cx="495.50" cy="953.90" r="3.5" fill="#fff" stroke="#da3820" stroke-width="1.95"/>
<circle cx="487.50" cy="957.90" r="3.5" fill="#fff" stroke="#da3820" stroke-width="1.95"/>
<circle cx="491.20" cy="965.60" r="3.5" fill="#fff" stroke="#da3820" stroke-width="1.95"/>
<circle cx="522.70" cy="918.30" r="3.5" fill="#fff" stroke="#080808" stroke-width="1.95"/>
<circle cx="519.20" cy="930.10" r="3.5" fill="#fff" stroke="#080808" stroke-width="1.95"/>
<circle cx="526.60" cy="934.60" r="3.5" fill="#fff" stroke="#080808" stroke-width="1.95"/>
<circle cx="520.70" cy="938.30" r="3.5" fill="#fff" stroke="#080808" stroke-width="1.95"/>
<circle cx="521.80" cy="939.00" r="3.5" fill="#fff" stroke="#080808" stroke-width="1.95"/>
<circle cx="524.40" cy="939.40" r="3.5" fill="#fff" stroke="#080808" stroke-width="1.95"/>
<circle cx="526.30" cy="952.00" r="3.5" fill="#fff" stroke="#080808" stroke-width="1.95"/>
<circle cx="518.90" cy="955.70" r="3.5" fill="#fff" stroke="#080808" stroke-width="1.95"/>
<circle cx="522.70" cy="957.50" r="3.5" fill="#fff" stroke="#080808" stroke-width="1.95"/>
<circle cx="527.80" cy="971.60" r="3.5" fill="#fff" stroke="#080808" stroke-width="1.95"/>
<circle cx="517.40" cy="973.80" r="3.5" fill="#fff" stroke="#080808" stroke-width="1.95"/>
<circle cx="525.20" cy="974.20" r="3.5" fill="#fff" stroke="#080808" stroke-width="1.95"/>
<circle cx="520.70" cy="976.00" r="3.5" fill="#fff" stroke="#080808" stroke-width="1.95"/>
<circle cx="549.90" cy="930.10" r="3.5" fill="#fff" stroke="#da3820" stroke-width="1.95"/>
<circle cx="540.70" cy="940.10" r="3.5" fill="#fff" stroke="#da3820" stroke-width="1.95"/>
<circle cx="540.70" cy="935.70" r="3.5" fill="#fff" stroke="#da3820" stroke-width="1.95"/>
<circle cx="549.90" cy="949.40" r="3.5" fill="#fff" stroke="#da3820" stroke-width="1.95"/>
<circle cx="541.80" cy="956.00" r="3.5" fill="#fff" stroke="#da3820" stroke-width="1.95"/>
<circle cx="545.10" cy="963.40" r="3.5" fill="#fff" stroke="#da3820" stroke-width="1.95"/>
<circle cx="549.10" cy="959.70" r="3.5" fill="#fff" stroke="#da3820" stroke-width="1.95"/>
<circle cx="576.90" cy="923.10" r="3.5" fill="#fff" stroke="#080808" stroke-width="1.95"/>
<circle cx="572.90" cy="927.20" r="3.5" fill="#fff" stroke="#080808" stroke-width="1.95"/>
<circle cx="580.60" cy="932.00" r="3.5" fill="#fff" stroke="#080808" stroke-width="1.95"/>
<circle cx="576.60" cy="937.50" r="3.5" fill="#fff" stroke="#080808" stroke-width="1.95"/>
<circle cx="575.10" cy="933.80" r="3.5" fill="#fff" stroke="#080808" stroke-width="1.95"/>
<circle cx="580.60" cy="949.70" r="3.5" fill="#fff" stroke="#080808" stroke-width="1.95"/>
<circle cx="572.90" cy="951.20" r="3.5" fill="#fff" stroke="#080808" stroke-width="1.95"/>
<circle cx="576.60" cy="954.60" r="3.5" fill="#fff" stroke="#080808" stroke-width="1.95"/>
<circle cx="578.80" cy="968.60" r="3.5" fill="#fff" stroke="#080808" stroke-width="1.95"/>
<circle cx="574.70" cy="970.10" r="3.5" fill="#fff" stroke="#080808" stroke-width="1.95"/>
<circle cx="582.10" cy="963.80" r="3.5" fill="#fff" stroke="#080808" stroke-width="1.95"/>
<circle cx="571.40" cy="967.10" r="3.5" fill="#fff" stroke="#080808" stroke-width="1.95"/>
<circle cx="599.40" cy="923.50" r="3.5" fill="#fff" stroke="#da3820" stroke-width="1.95"/>
<circle cx="595.70" cy="939.40" r="3.5" fill="#fff" stroke="#da3820" stroke-width="1.95"/>
<circle cx="603.10" cy="935.30" r="3.5" fill="#fff" stroke="#da3820" stroke-width="1.95"/>
<circle cx="599.40" cy="945.30" r="3.5" fill="#fff" stroke="#da3820" stroke-width="1.95"/>
<circle cx="595.70" cy="953.10" r="3.5" fill="#fff" stroke="#da3820" stroke-width="1.95"/>
<circle cx="603.10" cy="953.80" r="3.5" fill="#fff" stroke="#da3820" stroke-width="1.95"/>
<circle cx="599.40" cy="960.80" r="3.5" fill="#fff" stroke="#da3820" stroke-width="1.95"/>
<circle cx="630.90" cy="908.30" r="3.5" fill="#fff" stroke="#080808" stroke-width="1.95"/>
<circle cx="630.90" cy="924.50" r="3.5" fill="#fff" stroke="#080808" stroke-width="1.95"/>
<circle cx="636.50" cy="927.90" r="3.5" fill="#fff" stroke="#080808" stroke-width="1.95"/>
<circle cx="625.50" cy="932.00" r="3.5" fill="#fff" stroke="#080808" stroke-width="1.95"/>
<circle cx="628.40" cy="938.70" r="3.5" fill="#fff" stroke="#080808" stroke-width="1.95"/>
<circle cx="633.00" cy="934.50" r="3.5" fill="#fff" stroke="#080808" stroke-width="1.95"/>
<circle cx="634.60" cy="942.80" r="3.5" fill="#fff" stroke="#080808" stroke-width="1.95"/>
<circle cx="627.20" cy="944.90" r="3.5" fill="#fff" stroke="#080808" stroke-width="1.95"/>
<circle cx="630.90" cy="949.90" r="3.5" fill="#fff" stroke="#080808" stroke-width="1.95"/>
<circle cx="636.70" cy="960.70" r="3.5" fill="#fff" stroke="#080808" stroke-width="1.95"/>
<circle cx="625.50" cy="962.40" r="3.5" fill="#fff" stroke="#080808" stroke-width="1.95"/>
<circle cx="633.00" cy="962.80" r="3.5" fill="#fff" stroke="#080808" stroke-width="1.95"/>
<circle cx="628.80" cy="968.60" r="3.5" fill="#fff" stroke="#080808" stroke-width="1.95"/>
<circle cx="653.40" cy="921.00" r="3.5" fill="#fff" stroke="#da3820" stroke-width="1.95"/>
<circle cx="657.10" cy="933.30" r="3.5" fill="#fff" stroke="#da3820" stroke-width="1.95"/>
<circle cx="649.60" cy="934.90" r="3.5" fill="#fff" stroke="#da3820" stroke-width="1.95"/>
<circle cx="653.40" cy="937.00" r="3.5" fill="#fff" stroke="#da3820" stroke-width="1.95"/>
<circle cx="649.60" cy="946.60" r="3.5" fill="#fff" stroke="#da3820" stroke-width="1.95"/>
<circle cx="657.10" cy="947.80" r="3.5" fill="#fff" stroke="#da3820" stroke-width="1.95"/>
<circle cx="653.40" cy="954.10" r="3.5" fill="#fff" stroke="#da3820" stroke-width="1.95"/>
<circle cx="689.50" cy="897.10" r="3.5" fill="#fff" stroke="#080808" stroke-width="1.95"/>
<circle cx="680.30" cy="903.30" r="3.5" fill="#fff" stroke="#080808" stroke-width="1.95"/>
<circle cx="688.60" cy="925.80" r="3.5" fill="#fff" stroke="#080808" stroke-width="1.95"/>
<circle cx="681.20" cy="930.30" r="3.5" fill="#fff" stroke="#080808" stroke-width="1.95"/>
<circle cx="681.20" cy="927.40" r="3.5" fill="#fff" stroke="#080808" stroke-width="1.95"/>
<circle cx="684.90" cy="929.10" r="3.5" fill="#fff" stroke="#080808" stroke-width="1.95"/>
<circle cx="688.60" cy="938.20" r="3.5" fill="#fff" stroke="#080808" stroke-width="1.95"/>
<circle cx="684.90" cy="939.90" r="3.5" fill="#fff" stroke="#080808" stroke-width="1.95"/>
<circle cx="680.30" cy="947.40" r="3.5" fill="#fff" stroke="#080808" stroke-width="1.95"/>
<circle cx="689.50" cy="952.00" r="3.5" fill="#fff" stroke="#080808" stroke-width="1.95"/>
<circle cx="684.90" cy="964.90" r="3.5" fill="#fff" stroke="#080808" stroke-width="1.95"/>
<circle cx="681.20" cy="960.30" r="3.5" fill="#fff" stroke="#080808" stroke-width="1.95"/>
<circle cx="688.60" cy="960.70" r="3.5" fill="#fff" stroke="#080808" stroke-width="1.95"/>
<circle cx="702.80" cy="924.90" r="3.5" fill="#fff" stroke="#da3820" stroke-width="1.95"/>
<circle cx="711.90" cy="924.80" r="3.5" fill="#fff" stroke="#da3820" stroke-width="1.95"/>
<circle cx="702.80" cy="931.80" r="3.5" fill="#fff" stroke="#da3820" stroke-width="1.95"/>
<circle cx="711.90" cy="937.80" r="3.5" fill="#fff" stroke="#da3820" stroke-width="1.95"/>
<circle cx="704.00" cy="945.30" r="3.5" fill="#fff" stroke="#da3820" stroke-width="1.95"/>
<circle cx="711.10" cy="950.30" r="3.5" fill="#fff" stroke="#da3820" stroke-width="1.95"/>
<circle cx="707.40" cy="954.50" r="3.5" fill="#fff" stroke="#da3820" stroke-width="1.95"/>
</svg></body></html>
